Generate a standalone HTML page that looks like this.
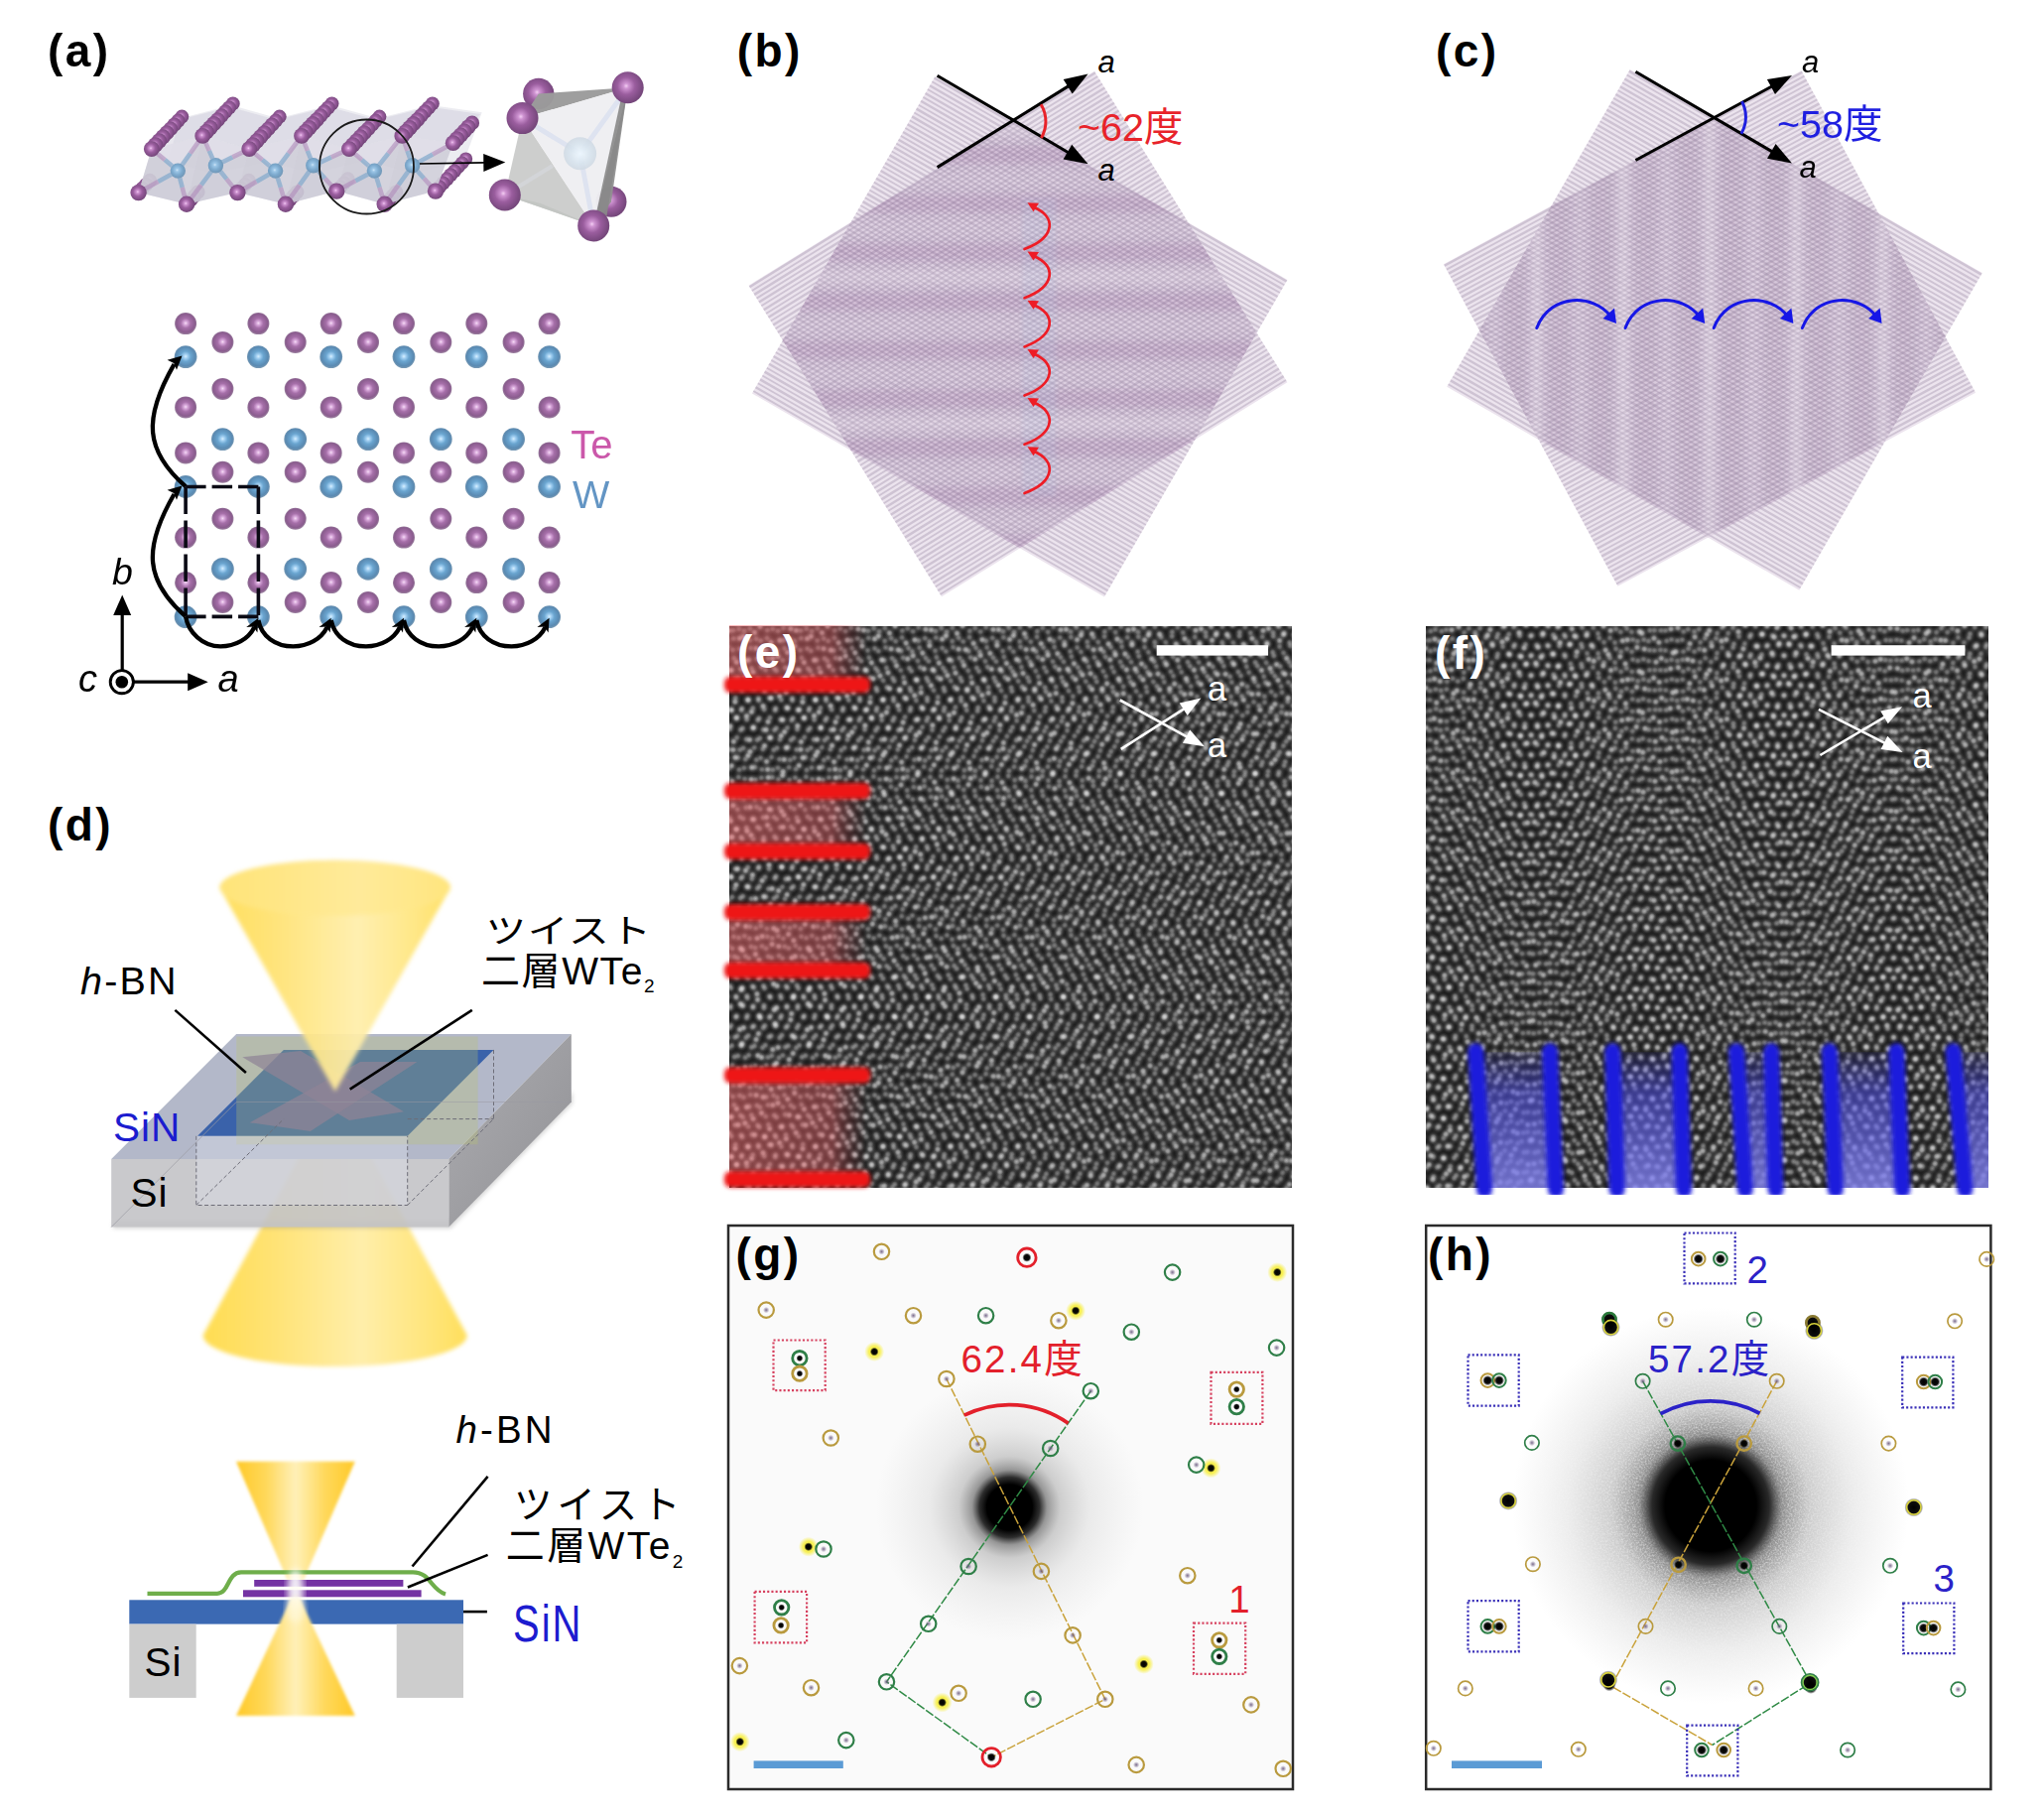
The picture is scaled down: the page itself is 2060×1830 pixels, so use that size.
<!DOCTYPE html>
<html lang="ja"><head><meta charset="utf-8"><title>Twisted bilayer WTe2 figure</title>
<style>
html,body{margin:0;padding:0;background:#fff;}
body{width:2060px;height:1830px;overflow:hidden;}
svg{display:block;font-family:"Liberation Sans", "Noto Sans CJK JP", sans-serif;}
</style></head><body>
<svg width="2060" height="1830" viewBox="0 0 2060 1830">
<defs>
<radialGradient id="gTe" cx="50%" cy="48%" r="50%">
 <stop offset="0" stop-color="#f6dcf6"/><stop offset="0.18" stop-color="#d6a6d9"/><stop offset="0.45" stop-color="#a66fa9"/><stop offset="0.85" stop-color="#8a5c8e"/><stop offset="1" stop-color="#85628a" stop-opacity="0.85"/>
</radialGradient>
<radialGradient id="gW" cx="50%" cy="48%" r="50%">
 <stop offset="0" stop-color="#d8f0ff"/><stop offset="0.18" stop-color="#a3d0f2"/><stop offset="0.45" stop-color="#6aa5d0"/><stop offset="0.85" stop-color="#5a8ab2"/><stop offset="1" stop-color="#5a84a6" stop-opacity="0.85"/>
</radialGradient>
<radialGradient id="gTe3" cx="45%" cy="45%" r="55%">
 <stop offset="0" stop-color="#f3cdf3"/><stop offset="0.15" stop-color="#cf94d2"/><stop offset="0.5" stop-color="#9a5d9e"/><stop offset="1" stop-color="#74467a"/>
</radialGradient>
<radialGradient id="gW3" cx="45%" cy="45%" r="55%">
 <stop offset="0" stop-color="#cdeaff"/><stop offset="0.2" stop-color="#86bfe8"/><stop offset="0.6" stop-color="#5b98c6"/><stop offset="1" stop-color="#4b7ea6"/>
</radialGradient>
<radialGradient id="gWpale" cx="50%" cy="50%" r="50%">
 <stop offset="0" stop-color="#eef8ff"/><stop offset="0.6" stop-color="#d8e4ee"/><stop offset="1" stop-color="#d0dae4"/>
</radialGradient>
<filter id="blur1" x="-10%" y="-10%" width="120%" height="120%"><feGaussianBlur stdDeviation="0.7"/></filter>
<g id="wlayer"><rect x="-205.00" y="-184.50" width="410.00" height="369.00" fill="#a078aa" opacity="0.2"/><g fill="#9a8aa6" fill-opacity="0.37"><rect x="-205.00" y="-183.95" width="410.00" height="2.4"/><rect x="-205.00" y="-179.20" width="410.00" height="1.8"/><rect x="-205.00" y="-174.95" width="410.00" height="2.4"/><rect x="-205.00" y="-170.20" width="410.00" height="1.8"/><rect x="-205.00" y="-165.95" width="410.00" height="2.4"/><rect x="-205.00" y="-161.20" width="410.00" height="1.8"/><rect x="-205.00" y="-156.95" width="410.00" height="2.4"/><rect x="-205.00" y="-152.20" width="410.00" height="1.8"/><rect x="-205.00" y="-147.95" width="410.00" height="2.4"/><rect x="-205.00" y="-143.20" width="410.00" height="1.8"/><rect x="-205.00" y="-138.95" width="410.00" height="2.4"/><rect x="-205.00" y="-134.20" width="410.00" height="1.8"/><rect x="-205.00" y="-129.95" width="410.00" height="2.4"/><rect x="-205.00" y="-125.20" width="410.00" height="1.8"/><rect x="-205.00" y="-120.95" width="410.00" height="2.4"/><rect x="-205.00" y="-116.20" width="410.00" height="1.8"/><rect x="-205.00" y="-111.95" width="410.00" height="2.4"/><rect x="-205.00" y="-107.20" width="410.00" height="1.8"/><rect x="-205.00" y="-102.95" width="410.00" height="2.4"/><rect x="-205.00" y="-98.20" width="410.00" height="1.8"/><rect x="-205.00" y="-93.95" width="410.00" height="2.4"/><rect x="-205.00" y="-89.20" width="410.00" height="1.8"/><rect x="-205.00" y="-84.95" width="410.00" height="2.4"/><rect x="-205.00" y="-80.20" width="410.00" height="1.8"/><rect x="-205.00" y="-75.95" width="410.00" height="2.4"/><rect x="-205.00" y="-71.20" width="410.00" height="1.8"/><rect x="-205.00" y="-66.95" width="410.00" height="2.4"/><rect x="-205.00" y="-62.20" width="410.00" height="1.8"/><rect x="-205.00" y="-57.95" width="410.00" height="2.4"/><rect x="-205.00" y="-53.20" width="410.00" height="1.8"/><rect x="-205.00" y="-48.95" width="410.00" height="2.4"/><rect x="-205.00" y="-44.20" width="410.00" height="1.8"/><rect x="-205.00" y="-39.95" width="410.00" height="2.4"/><rect x="-205.00" y="-35.20" width="410.00" height="1.8"/><rect x="-205.00" y="-30.95" width="410.00" height="2.4"/><rect x="-205.00" y="-26.20" width="410.00" height="1.8"/><rect x="-205.00" y="-21.95" width="410.00" height="2.4"/><rect x="-205.00" y="-17.20" width="410.00" height="1.8"/><rect x="-205.00" y="-12.95" width="410.00" height="2.4"/><rect x="-205.00" y="-8.20" width="410.00" height="1.8"/><rect x="-205.00" y="-3.95" width="410.00" height="2.4"/><rect x="-205.00" y="0.80" width="410.00" height="1.8"/><rect x="-205.00" y="5.05" width="410.00" height="2.4"/><rect x="-205.00" y="9.80" width="410.00" height="1.8"/><rect x="-205.00" y="14.05" width="410.00" height="2.4"/><rect x="-205.00" y="18.80" width="410.00" height="1.8"/><rect x="-205.00" y="23.05" width="410.00" height="2.4"/><rect x="-205.00" y="27.80" width="410.00" height="1.8"/><rect x="-205.00" y="32.05" width="410.00" height="2.4"/><rect x="-205.00" y="36.80" width="410.00" height="1.8"/><rect x="-205.00" y="41.05" width="410.00" height="2.4"/><rect x="-205.00" y="45.80" width="410.00" height="1.8"/><rect x="-205.00" y="50.05" width="410.00" height="2.4"/><rect x="-205.00" y="54.80" width="410.00" height="1.8"/><rect x="-205.00" y="59.05" width="410.00" height="2.4"/><rect x="-205.00" y="63.80" width="410.00" height="1.8"/><rect x="-205.00" y="68.05" width="410.00" height="2.4"/><rect x="-205.00" y="72.80" width="410.00" height="1.8"/><rect x="-205.00" y="77.05" width="410.00" height="2.4"/><rect x="-205.00" y="81.80" width="410.00" height="1.8"/><rect x="-205.00" y="86.05" width="410.00" height="2.4"/><rect x="-205.00" y="90.80" width="410.00" height="1.8"/><rect x="-205.00" y="95.05" width="410.00" height="2.4"/><rect x="-205.00" y="99.80" width="410.00" height="1.8"/><rect x="-205.00" y="104.05" width="410.00" height="2.4"/><rect x="-205.00" y="108.80" width="410.00" height="1.8"/><rect x="-205.00" y="113.05" width="410.00" height="2.4"/><rect x="-205.00" y="117.80" width="410.00" height="1.8"/><rect x="-205.00" y="122.05" width="410.00" height="2.4"/><rect x="-205.00" y="126.80" width="410.00" height="1.8"/><rect x="-205.00" y="131.05" width="410.00" height="2.4"/><rect x="-205.00" y="135.80" width="410.00" height="1.8"/><rect x="-205.00" y="140.05" width="410.00" height="2.4"/><rect x="-205.00" y="144.80" width="410.00" height="1.8"/><rect x="-205.00" y="149.05" width="410.00" height="2.4"/><rect x="-205.00" y="153.80" width="410.00" height="1.8"/><rect x="-205.00" y="158.05" width="410.00" height="2.4"/><rect x="-205.00" y="162.80" width="410.00" height="1.8"/><rect x="-205.00" y="167.05" width="410.00" height="2.4"/><rect x="-205.00" y="171.80" width="410.00" height="1.8"/><rect x="-205.00" y="176.05" width="410.00" height="2.4"/><rect x="-205.00" y="180.80" width="410.00" height="1.8"/></g></g><filter id="blurM" x="-20%" y="-20%" width="140%" height="140%"><feGaussianBlur stdDeviation="3"/></filter>
<linearGradient id="coneH" x1="0" y1="0" x2="1" y2="0">
 <stop offset="0" stop-color="#ffdd52"/><stop offset="0.25" stop-color="#ffe272"/><stop offset="0.6" stop-color="#ffeeaa"/><stop offset="0.85" stop-color="#ffe57c"/><stop offset="1" stop-color="#ffdf5c"/>
</linearGradient>
<linearGradient id="coneH2" x1="0" y1="0" x2="1" y2="0">
 <stop offset="0" stop-color="#ffc928"/><stop offset="0.25" stop-color="#ffd85a"/><stop offset="0.5" stop-color="#fff0b8"/><stop offset="0.75" stop-color="#ffd85a"/><stop offset="1" stop-color="#ffc928"/>
</linearGradient>
<linearGradient id="fadeDown" x1="0" y1="0" x2="0" y2="1">
 <stop offset="0" stop-color="#fff" stop-opacity="0"/><stop offset="0.55" stop-color="#fff" stop-opacity="0"/><stop offset="1" stop-color="#fff" stop-opacity="0.95"/>
</linearGradient>
<linearGradient id="fadeUp" x1="0" y1="1" x2="0" y2="0">
 <stop offset="0" stop-color="#fff" stop-opacity="0"/><stop offset="0.55" stop-color="#fff" stop-opacity="0"/><stop offset="1" stop-color="#fff" stop-opacity="0.95"/>
</linearGradient>
<linearGradient id="fadeTop" x1="0" y1="0" x2="0" y2="1">
 <stop offset="0" stop-color="#fff" stop-opacity="0.55"/><stop offset="0.25" stop-color="#fff" stop-opacity="0"/><stop offset="1" stop-color="#fff" stop-opacity="0"/>
</linearGradient>
<linearGradient id="rightFace" x1="0" y1="0" x2="1" y2="1">
 <stop offset="0" stop-color="#acacb0"/><stop offset="1" stop-color="#919195"/>
</linearGradient>
<filter id="blur2" x="-20%" y="-20%" width="140%" height="140%"><feGaussianBlur stdDeviation="2.2"/></filter>
<filter id="blur3" x="-20%" y="-20%" width="140%" height="140%"><feGaussianBlur stdDeviation="3.5"/></filter>
<filter id="blur15" x="-20%" y="-20%" width="140%" height="140%"><feGaussianBlur stdDeviation="1.4"/></filter>

<radialGradient id="beamG" cx="50%" cy="50%" r="50%">
 <stop offset="0" stop-color="#000" stop-opacity="1"/><stop offset="0.17" stop-color="#000" stop-opacity="1"/><stop offset="0.225" stop-color="#111" stop-opacity="0.88"/>
 <stop offset="0.28" stop-color="#333" stop-opacity="0.5"/><stop offset="0.38" stop-color="#555" stop-opacity="0.27"/><stop offset="0.6" stop-color="#777" stop-opacity="0.12"/><stop offset="1" stop-color="#999" stop-opacity="0"/>
</radialGradient>
<radialGradient id="beamH" cx="50%" cy="50%" r="50%">
 <stop offset="0" stop-color="#000" stop-opacity="1"/><stop offset="0.23" stop-color="#000" stop-opacity="1"/><stop offset="0.295" stop-color="#111" stop-opacity="0.9"/>
 <stop offset="0.36" stop-color="#333" stop-opacity="0.55"/><stop offset="0.5" stop-color="#555" stop-opacity="0.3"/><stop offset="0.72" stop-color="#777" stop-opacity="0.14"/><stop offset="1" stop-color="#999" stop-opacity="0"/>
</radialGradient>
<radialGradient id="haloMask" cx="50%" cy="50%" r="50%">
 <stop offset="0" stop-color="#000" stop-opacity="0"/><stop offset="0.33" stop-color="#000" stop-opacity="0"/><stop offset="0.42" stop-color="#000" stop-opacity="0.9"/><stop offset="0.7" stop-color="#000" stop-opacity="0.5"/><stop offset="1" stop-color="#000" stop-opacity="0"/>
</radialGradient>
<filter id="grain" x="0" y="0" width="100%" height="100%" color-interpolation-filters="sRGB">
 <feTurbulence type="fractalNoise" baseFrequency="0.55" numOctaves="2" seed="7" result="n"/>
 <feColorMatrix in="n" type="matrix" values="0 0 0 0 1  0 0 0 0 1  0 0 0 0 1  2.2 0 0 0 -0.85" result="w"/>
 <feComposite in="w" in2="SourceGraphic" operator="in"/>
</filter>
<radialGradient id="yglow" cx="50%" cy="50%" r="50%">
 <stop offset="0" stop-color="#f7ee3a" stop-opacity="1"/><stop offset="0.55" stop-color="#f7ee3a" stop-opacity="0.85"/><stop offset="1" stop-color="#f7ee3a" stop-opacity="0"/>
</radialGradient>
<radialGradient id="spot" cx="50%" cy="50%" r="50%">
 <stop offset="0" stop-color="#000" stop-opacity="1"/><stop offset="0.6" stop-color="#000" stop-opacity="0.95"/><stop offset="1" stop-color="#000" stop-opacity="0"/>
</radialGradient>
<radialGradient id="fspot" cx="50%" cy="50%" r="50%">
 <stop offset="0" stop-color="#6b5a80" stop-opacity="0.9"/><stop offset="1" stop-color="#6b5a80" stop-opacity="0"/>
</radialGradient>

<radialGradient id="dW" cx="50%" cy="50%" r="50%"><stop offset="0" stop-color="#fff" stop-opacity="0.6"/><stop offset="0.25" stop-color="#fff" stop-opacity="0.46"/><stop offset="0.5" stop-color="#fff" stop-opacity="0.17"/><stop offset="0.75" stop-color="#fff" stop-opacity="0.04"/><stop offset="1" stop-color="#fff" stop-opacity="0"/></radialGradient>
<radialGradient id="dTe" cx="50%" cy="50%" r="50%"><stop offset="0" stop-color="#fff" stop-opacity="0.4"/><stop offset="0.25" stop-color="#fff" stop-opacity="0.3"/><stop offset="0.5" stop-color="#fff" stop-opacity="0.11"/><stop offset="0.75" stop-color="#fff" stop-opacity="0.03"/><stop offset="1" stop-color="#fff" stop-opacity="0"/></radialGradient>
<linearGradient id="redFade" x1="0" y1="0" x2="1" y2="0"><stop offset="0" stop-color="#f0686c" stop-opacity="0.5"/><stop offset="0.75" stop-color="#d85a60" stop-opacity="0.45"/><stop offset="1" stop-color="#a03038" stop-opacity="0"/></linearGradient>
<linearGradient id="blueFade" x1="0" y1="0" x2="0" y2="1"><stop offset="0" stop-color="#3030e0" stop-opacity="0.1"/><stop offset="0.3" stop-color="#5050e6" stop-opacity="0.55"/><stop offset="1" stop-color="#8585f0" stop-opacity="0.82"/></linearGradient>
<clipPath id="clipE"><rect x="735" y="631" width="567" height="566"/></clipPath>
<clipPath id="clipF"><rect x="1437" y="631" width="567" height="566"/></clipPath>
<filter id="blurS" x="-5%" y="-5%" width="110%" height="110%"><feGaussianBlur stdDeviation="0.6"/></filter>
<filter id="blurBar" x="-10%" y="-30%" width="120%" height="160%"><feGaussianBlur stdDeviation="1.9"/></filter>
<g id="scell"><circle cx="0.00" cy="0.00" r="6.6" fill="url(#dW)"/><circle cx="0.00" cy="9.24" r="6.4" fill="url(#dTe)"/><circle cx="0.00" cy="21.38" r="6.4" fill="url(#dTe)"/><circle cx="9.72" cy="3.92" r="6.4" fill="url(#dTe)"/><circle cx="9.72" cy="12.91" r="6.6" fill="url(#dW)"/><circle cx="9.72" cy="26.39" r="6.4" fill="url(#dTe)"/></g><g id="srow"><use href="#scell" x="0.00"/><use href="#scell" x="19.44"/><use href="#scell" x="38.88"/><use href="#scell" x="58.32"/><use href="#scell" x="77.76"/><use href="#scell" x="97.20"/><use href="#scell" x="116.64"/><use href="#scell" x="136.08"/><use href="#scell" x="155.52"/><use href="#scell" x="174.96"/><use href="#scell" x="194.40"/><use href="#scell" x="213.84"/><use href="#scell" x="233.28"/><use href="#scell" x="252.72"/><use href="#scell" x="272.16"/><use href="#scell" x="291.60"/><use href="#scell" x="311.04"/><use href="#scell" x="330.48"/><use href="#scell" x="349.92"/><use href="#scell" x="369.36"/><use href="#scell" x="388.80"/><use href="#scell" x="408.24"/><use href="#scell" x="427.68"/><use href="#scell" x="447.12"/><use href="#scell" x="466.56"/><use href="#scell" x="486.00"/><use href="#scell" x="505.44"/><use href="#scell" x="524.88"/><use href="#scell" x="544.32"/><use href="#scell" x="563.76"/><use href="#scell" x="583.20"/><use href="#scell" x="602.64"/><use href="#scell" x="622.08"/><use href="#scell" x="641.52"/><use href="#scell" x="660.96"/><use href="#scell" x="680.40"/><use href="#scell" x="699.84"/><use href="#scell" x="719.28"/><use href="#scell" x="738.72"/><use href="#scell" x="758.16"/><use href="#scell" x="777.60"/><use href="#scell" x="797.04"/><use href="#scell" x="816.48"/><use href="#scell" x="835.92"/></g><g id="slayer"><g transform="translate(-427.68,-455.00)"><use href="#srow" y="0.00"/><use href="#srow" y="35.00"/><use href="#srow" y="70.00"/><use href="#srow" y="105.00"/><use href="#srow" y="140.00"/><use href="#srow" y="175.00"/><use href="#srow" y="210.00"/><use href="#srow" y="245.00"/><use href="#srow" y="280.00"/><use href="#srow" y="315.00"/><use href="#srow" y="350.00"/><use href="#srow" y="385.00"/><use href="#srow" y="420.00"/><use href="#srow" y="455.00"/><use href="#srow" y="490.00"/><use href="#srow" y="525.00"/><use href="#srow" y="560.00"/><use href="#srow" y="595.00"/><use href="#srow" y="630.00"/><use href="#srow" y="665.00"/><use href="#srow" y="700.00"/><use href="#srow" y="735.00"/><use href="#srow" y="770.00"/><use href="#srow" y="805.00"/><use href="#srow" y="840.00"/><use href="#srow" y="875.00"/></g></g></defs>
<rect width="2060" height="1830" fill="#fff"/>
<text x="742.7" y="67" font-size="46" font-weight="bold" fill="#000" letter-spacing="2.4">(b)</text>
<g transform="translate(1027.7,339.2) rotate(30) translate(0,0)"><use href="#wlayer"/></g>
<g transform="translate(1026,336.5) rotate(-31.8) translate(0,0)"><use href="#wlayer"/></g>
<defs><clipPath id="cbA"><polygon points="942.4,76.9 1297.5,281.9 1113,601.5 757.9,396.5"/></clipPath><clipPath id="cbB"><polygon points="754.5,287.7 1103,71.7 1297.5,385.3 949,601.3"/></clipPath></defs>
<g clip-path="url(#cbA)"><g clip-path="url(#cbB)"><g filter="url(#blurM)"><rect x="740" y="49.1" width="580" height="17" fill="#4a2a5a" opacity="0.075"/><rect x="740" y="74.7" width="580" height="15" fill="#fff" opacity="0.07"/><rect x="740" y="98.3" width="580" height="17" fill="#4a2a5a" opacity="0.075"/><rect x="740" y="123.9" width="580" height="15" fill="#fff" opacity="0.17"/><rect x="740" y="147.5" width="580" height="17" fill="#4a2a5a" opacity="0.075"/><rect x="740" y="173.1" width="580" height="15" fill="#fff" opacity="0.07"/><rect x="740" y="196.7" width="580" height="17" fill="#4a2a5a" opacity="0.075"/><rect x="740" y="222.3" width="580" height="15" fill="#fff" opacity="0.07"/><rect x="740" y="245.9" width="580" height="17" fill="#4a2a5a" opacity="0.075"/><rect x="740" y="271.5" width="580" height="15" fill="#fff" opacity="0.17"/><rect x="740" y="295.1" width="580" height="17" fill="#4a2a5a" opacity="0.075"/><rect x="740" y="320.7" width="580" height="15" fill="#fff" opacity="0.07"/><rect x="740" y="344.3" width="580" height="17" fill="#4a2a5a" opacity="0.075"/><rect x="740" y="369.9" width="580" height="15" fill="#fff" opacity="0.07"/><rect x="740" y="393.5" width="580" height="17" fill="#4a2a5a" opacity="0.075"/><rect x="740" y="419.1" width="580" height="15" fill="#fff" opacity="0.17"/><rect x="740" y="442.7" width="580" height="17" fill="#4a2a5a" opacity="0.075"/><rect x="740" y="468.3" width="580" height="15" fill="#fff" opacity="0.07"/><rect x="740" y="491.9" width="580" height="17" fill="#4a2a5a" opacity="0.075"/><rect x="740" y="517.5" width="580" height="15" fill="#fff" opacity="0.07"/><rect x="740" y="541.1" width="580" height="17" fill="#4a2a5a" opacity="0.075"/><rect x="740" y="566.7" width="580" height="15" fill="#fff" opacity="0.17"/><rect x="740" y="590.3" width="580" height="17" fill="#4a2a5a" opacity="0.075"/><rect x="740" y="615.9" width="580" height="15" fill="#fff" opacity="0.07"/></g></g></g>
<rect x="1030" y="200" width="34" height="300" fill="#a9c4e6" opacity="0.13" filter="url(#blur2)"/>
<line x1="944.6" y1="76.2" x2="1077.6" y2="154.2" stroke="#000" stroke-width="3"/><polygon points="1096.6,165.3 1071.6,160.5 1080.2,145.8" fill="#000"/>
<line x1="944.6" y1="168.6" x2="1077.9" y2="86.1" stroke="#000" stroke-width="3"/><polygon points="1096.6,74.5 1080.7,94.4 1071.7,79.9" fill="#000"/>
<path d="M1049.1,105.2 A33,33 0 0 1 1049.4,139.1" fill="none" stroke="#e8232a" stroke-width="3"/>
<text x="1115" y="73" font-size="31" fill="#000" font-weight="normal" font-style="italic" text-anchor="middle" >a</text>
<text x="1115" y="182" font-size="31" fill="#000" font-weight="normal" font-style="italic" text-anchor="middle" >a</text>
<text x="1086" y="141.5" font-size="39.5" fill="#e8232a" font-weight="normal" font-style="normal" text-anchor="start" >~62度</text>
<path d="M1032.5,497 C1064.5,485 1064.5,463.8 1041.5,454.8" fill="none" stroke="#ee1c25" stroke-width="2.7" stroke-linecap="round"/>
<polygon points="1035.5,450.3 1047,450.8 1041.5,459.3" fill="#ee1c25"/>
<path d="M1032.5,447.8 C1064.5,435.8 1064.5,414.6 1041.5,405.6" fill="none" stroke="#ee1c25" stroke-width="2.7" stroke-linecap="round"/>
<polygon points="1035.5,401.1 1047,401.6 1041.5,410.1" fill="#ee1c25"/>
<path d="M1032.5,398.6 C1064.5,386.6 1064.5,365.4 1041.5,356.4" fill="none" stroke="#ee1c25" stroke-width="2.7" stroke-linecap="round"/>
<polygon points="1035.5,351.9 1047,352.4 1041.5,360.9" fill="#ee1c25"/>
<path d="M1032.5,349.4 C1064.5,337.4 1064.5,316.2 1041.5,307.2" fill="none" stroke="#ee1c25" stroke-width="2.7" stroke-linecap="round"/>
<polygon points="1035.5,302.7 1047,303.2 1041.5,311.7" fill="#ee1c25"/>
<path d="M1032.5,300.2 C1064.5,288.2 1064.5,267 1041.5,258" fill="none" stroke="#ee1c25" stroke-width="2.7" stroke-linecap="round"/>
<polygon points="1035.5,253.5 1047,254 1041.5,262.5" fill="#ee1c25"/>
<path d="M1032.5,251 C1064.5,239 1064.5,217.8 1041.5,208.8" fill="none" stroke="#ee1c25" stroke-width="2.7" stroke-linecap="round"/>
<polygon points="1035.5,204.3 1047,204.8 1041.5,213.3" fill="#ee1c25"/>
<text x="1447" y="67" font-size="46" font-weight="bold" fill="#000" letter-spacing="2.4">(c)</text>
<g transform="translate(1728,332.4) rotate(30) translate(0,0)"><use href="#wlayer"/></g>
<g transform="translate(1723,331) rotate(-28.4) translate(0,0)"><use href="#wlayer"/></g>
<defs><clipPath id="ccA"><polygon points="1642.7,70.1 1997.8,275.1 1813.3,594.7 1458.2,389.7"/></clipPath><clipPath id="ccB"><polygon points="1454.9,266.2 1815.6,71.2 1991.1,395.8 1630.4,590.8"/></clipPath></defs>
<g clip-path="url(#ccA)"><g clip-path="url(#ccB)"><g filter="url(#blurM)"><rect x="1456.1" y="60" width="11" height="560" fill="#fff" opacity="0.24"/><rect x="1500.7" y="60" width="9" height="560" fill="#fff" opacity="0.1"/><rect x="1473.6" y="60" width="20" height="560" fill="#6a4a78" opacity="0.05"/><rect x="1516.6" y="60" width="20" height="560" fill="#6a4a78" opacity="0.05"/><rect x="1543.3" y="60" width="11" height="560" fill="#fff" opacity="0.24"/><rect x="1587.9" y="60" width="9" height="560" fill="#fff" opacity="0.1"/><rect x="1560.8" y="60" width="20" height="560" fill="#6a4a78" opacity="0.05"/><rect x="1603.8" y="60" width="20" height="560" fill="#6a4a78" opacity="0.05"/><rect x="1630.5" y="60" width="11" height="560" fill="#fff" opacity="0.24"/><rect x="1675.1" y="60" width="9" height="560" fill="#fff" opacity="0.1"/><rect x="1648" y="60" width="20" height="560" fill="#6a4a78" opacity="0.05"/><rect x="1691" y="60" width="20" height="560" fill="#6a4a78" opacity="0.05"/><rect x="1717.7" y="60" width="11" height="560" fill="#fff" opacity="0.24"/><rect x="1762.3" y="60" width="9" height="560" fill="#fff" opacity="0.1"/><rect x="1735.2" y="60" width="20" height="560" fill="#6a4a78" opacity="0.05"/><rect x="1778.2" y="60" width="20" height="560" fill="#6a4a78" opacity="0.05"/><rect x="1804.9" y="60" width="11" height="560" fill="#fff" opacity="0.24"/><rect x="1849.5" y="60" width="9" height="560" fill="#fff" opacity="0.1"/><rect x="1822.4" y="60" width="20" height="560" fill="#6a4a78" opacity="0.05"/><rect x="1865.4" y="60" width="20" height="560" fill="#6a4a78" opacity="0.05"/><rect x="1892.1" y="60" width="11" height="560" fill="#fff" opacity="0.24"/><rect x="1936.7" y="60" width="9" height="560" fill="#fff" opacity="0.1"/><rect x="1909.6" y="60" width="20" height="560" fill="#6a4a78" opacity="0.05"/><rect x="1952.6" y="60" width="20" height="560" fill="#6a4a78" opacity="0.05"/><rect x="1979.3" y="60" width="11" height="560" fill="#fff" opacity="0.24"/><rect x="2023.9" y="60" width="9" height="560" fill="#fff" opacity="0.1"/><rect x="1996.8" y="60" width="20" height="560" fill="#6a4a78" opacity="0.05"/><rect x="2039.8" y="60" width="20" height="560" fill="#6a4a78" opacity="0.05"/><rect x="2066.5" y="60" width="11" height="560" fill="#fff" opacity="0.24"/><rect x="2111.1" y="60" width="9" height="560" fill="#fff" opacity="0.1"/><rect x="2084" y="60" width="20" height="560" fill="#6a4a78" opacity="0.05"/><rect x="2127" y="60" width="20" height="560" fill="#6a4a78" opacity="0.05"/></g></g></g>
<line x1="1648.4" y1="72.3" x2="1787" y2="153.4" stroke="#000" stroke-width="3"/><polygon points="1806,164.5 1781,159.7 1789.6,145" fill="#000"/>
<line x1="1648.4" y1="161.5" x2="1786.7" y2="86.5" stroke="#000" stroke-width="3"/><polygon points="1806,76 1789,94.9 1780.9,80" fill="#000"/>
<path d="M1755.5,102.3 A33,33 0 0 1 1754.9,134.7" fill="none" stroke="#1f1fe0" stroke-width="3"/>
<text x="1824.5" y="73" font-size="31" fill="#000" font-weight="normal" font-style="italic" text-anchor="middle" >a</text>
<text x="1822" y="179" font-size="31" fill="#000" font-weight="normal" font-style="italic" text-anchor="middle" >a</text>
<text x="1791" y="138.5" font-size="39.5" fill="#1f1fe0" font-weight="normal" font-style="normal" text-anchor="start" >~58度</text>
<path d="M1548.8,330.5 C1562.8,294.5 1607,296.5 1623,318.5" fill="none" stroke="#1616e6" stroke-width="3" stroke-linecap="round"/>
<polygon points="1629,326 1627,310.5 1615.5,321" fill="#1616e6"/>
<path d="M1638,330.5 C1652,294.5 1696.2,296.5 1712.2,318.5" fill="none" stroke="#1616e6" stroke-width="3" stroke-linecap="round"/>
<polygon points="1718.2,326 1716.2,310.5 1704.7,321" fill="#1616e6"/>
<path d="M1727.2,330.5 C1741.2,294.5 1785.4,296.5 1801.4,318.5" fill="none" stroke="#1616e6" stroke-width="3" stroke-linecap="round"/>
<polygon points="1807.4,326 1805.4,310.5 1793.9,321" fill="#1616e6"/>
<path d="M1816.4,330.5 C1830.4,294.5 1874.6,296.5 1890.6,318.5" fill="none" stroke="#1616e6" stroke-width="3" stroke-linecap="round"/>
<polygon points="1896.6,326 1894.6,310.5 1883.1,321" fill="#1616e6"/>
<g id="pa"><text x="48" y="67" font-size="46" font-weight="bold" fill="#000" letter-spacing="2.4">(a)</text><g filter="url(#blur1)">
<polygon points="181.8,119.2 233.2,106 280.2,119.2 333,106 380.9,119.2 434.3,106 485.7,113.3 468,161.7 416.7,174.9 368.2,161.7 316.9,174.9 268.4,163.2 217.1,174.9 168.6,163.2" fill="#dddce6" opacity="0.55"/>
<polygon points="152.8,150.1 204.2,136.9 231.6,107.7 180.2,120.8" fill="#d2d0de" opacity="0.5"/>
<polygon points="204.2,136.9 251.2,150.1 278.6,120.8 231.6,107.7" fill="#d2d0de" opacity="0.5"/>
<polygon points="251.2,150.1 304,136.9 331.4,107.7 278.6,120.8" fill="#d2d0de" opacity="0.5"/>
<polygon points="304,136.9 351.9,150.1 379.3,120.8 331.4,107.7" fill="#d2d0de" opacity="0.5"/>
<polygon points="351.9,150.1 405.3,136.9 432.8,107.7 379.3,120.8" fill="#d2d0de" opacity="0.5"/>
<polygon points="405.3,136.9 456.7,144.2 484.1,114.9 432.8,107.7" fill="#d2d0de" opacity="0.5"/>
</g>
<circle cx="151" cy="181.9" r="7.1" fill="url(#gTe3)" />
<circle cx="147.2" cy="186" r="7.1" fill="url(#gTe3)" />
<circle cx="143.4" cy="190" r="7.2" fill="url(#gTe3)" />
<circle cx="199.5" cy="193.6" r="7.1" fill="url(#gTe3)" />
<circle cx="195.7" cy="197.7" r="7.1" fill="url(#gTe3)" />
<circle cx="191.9" cy="201.7" r="7.2" fill="url(#gTe3)" />
<circle cx="250.8" cy="181.9" r="7.1" fill="url(#gTe3)" />
<circle cx="247" cy="186" r="7.1" fill="url(#gTe3)" />
<circle cx="243.2" cy="190" r="7.2" fill="url(#gTe3)" />
<circle cx="299.3" cy="193.6" r="7.1" fill="url(#gTe3)" />
<circle cx="295.5" cy="197.7" r="7.1" fill="url(#gTe3)" />
<circle cx="291.7" cy="201.7" r="7.2" fill="url(#gTe3)" />
<circle cx="350.6" cy="180.4" r="7.1" fill="url(#gTe3)" />
<circle cx="346.8" cy="184.5" r="7.1" fill="url(#gTe3)" />
<circle cx="343" cy="188.5" r="7.2" fill="url(#gTe3)" />
<circle cx="399.1" cy="193.6" r="7.1" fill="url(#gTe3)" />
<circle cx="395.3" cy="197.7" r="7.1" fill="url(#gTe3)" />
<circle cx="391.5" cy="201.7" r="7.2" fill="url(#gTe3)" />
<circle cx="469.5" cy="160.1" r="6.7" fill="url(#gTe3)" />
<circle cx="465.7" cy="164.2" r="6.8" fill="url(#gTe3)" />
<circle cx="461.9" cy="168.2" r="6.8" fill="url(#gTe3)" />
<circle cx="458.1" cy="172.3" r="6.9" fill="url(#gTe3)" />
<circle cx="454.2" cy="176.3" r="7" fill="url(#gTe3)" />
<circle cx="450.4" cy="180.4" r="7.1" fill="url(#gTe3)" />
<circle cx="446.6" cy="184.5" r="7.1" fill="url(#gTe3)" />
<circle cx="442.8" cy="188.5" r="7.2" fill="url(#gTe3)" />
<g filter="url(#blur1)">
<polygon points="152.8,150.1 204.2,136.9 251.2,150.1 304,136.9 351.9,150.1 405.3,136.9 456.7,144.2 439,192.6 387.7,205.8 339.2,192.6 287.9,205.8 239.4,194.1 188.1,205.8 139.6,194.1" fill="#d2d1dc" opacity="0.85"/>
<polygon points="179.3,172.1 152.8,150.1 139.6,194.1" fill="#c9c7d4" opacity="0.5"/>
<polygon points="179.3,172.1 152.8,150.1 204.2,136.9" fill="#e6e5ee" opacity="0.6"/>
<polygon points="179.3,172.1 188.1,205.8 204.2,136.9" fill="#cfcdd9" opacity="0.45"/>
<polygon points="179.3,172.1 139.6,194.1 188.1,205.8" fill="#c3c0d0" opacity="0.4"/>
<polygon points="217.4,166.8 204.2,136.9 188.1,205.8" fill="#c9c7d4" opacity="0.5"/>
<polygon points="217.4,166.8 204.2,136.9 251.2,150.1" fill="#e6e5ee" opacity="0.6"/>
<polygon points="217.4,166.8 239.4,194.1 251.2,150.1" fill="#cfcdd9" opacity="0.45"/>
<polygon points="217.4,166.8 188.1,205.8 239.4,194.1" fill="#c3c0d0" opacity="0.4"/>
<polygon points="277.6,172.1 251.2,150.1 239.4,194.1" fill="#c9c7d4" opacity="0.5"/>
<polygon points="277.6,172.1 251.2,150.1 304,136.9" fill="#e6e5ee" opacity="0.6"/>
<polygon points="277.6,172.1 287.9,205.8 304,136.9" fill="#cfcdd9" opacity="0.45"/>
<polygon points="277.6,172.1 239.4,194.1 287.9,205.8" fill="#c3c0d0" opacity="0.4"/>
<polygon points="315.8,166.8 304,136.9 287.9,205.8" fill="#c9c7d4" opacity="0.5"/>
<polygon points="315.8,166.8 304,136.9 351.9,150.1" fill="#e6e5ee" opacity="0.6"/>
<polygon points="315.8,166.8 339.2,192.6 351.9,150.1" fill="#cfcdd9" opacity="0.45"/>
<polygon points="315.8,166.8 287.9,205.8 339.2,192.6" fill="#c3c0d0" opacity="0.4"/>
<polygon points="377.4,172.1 351.9,150.1 339.2,192.6" fill="#c9c7d4" opacity="0.5"/>
<polygon points="377.4,172.1 351.9,150.1 405.3,136.9" fill="#e6e5ee" opacity="0.6"/>
<polygon points="377.4,172.1 387.7,205.8 405.3,136.9" fill="#cfcdd9" opacity="0.45"/>
<polygon points="377.4,172.1 339.2,192.6 387.7,205.8" fill="#c3c0d0" opacity="0.4"/>
<polygon points="415.6,166.8 405.3,136.9 387.7,205.8" fill="#c9c7d4" opacity="0.5"/>
<polygon points="415.6,166.8 405.3,136.9 456.7,144.2" fill="#e6e5ee" opacity="0.6"/>
<polygon points="415.6,166.8 439,192.6 456.7,144.2" fill="#cfcdd9" opacity="0.45"/>
<polygon points="415.6,166.8 387.7,205.8 439,192.6" fill="#c3c0d0" opacity="0.4"/>
</g>
<line x1="179.3" y1="172.1" x2="166.1" y2="161.1" stroke="#86abcd" stroke-width="4.6" opacity="0.75"/>
<line x1="166.1" y1="161.1" x2="152.8" y2="150.1" stroke="#b08bbb" stroke-width="4.6" opacity="0.6"/>
<line x1="179.3" y1="172.1" x2="159.4" y2="183.1" stroke="#86abcd" stroke-width="4.6" opacity="0.75"/>
<line x1="159.4" y1="183.1" x2="139.6" y2="194.1" stroke="#b08bbb" stroke-width="4.6" opacity="0.6"/>
<line x1="179.3" y1="172.1" x2="183.7" y2="188.9" stroke="#86abcd" stroke-width="4.6" opacity="0.75"/>
<line x1="183.7" y1="188.9" x2="188.1" y2="205.8" stroke="#b08bbb" stroke-width="4.6" opacity="0.6"/>
<line x1="179.3" y1="172.1" x2="191.8" y2="154.5" stroke="#86abcd" stroke-width="4.6" opacity="0.75"/>
<line x1="191.8" y1="154.5" x2="204.2" y2="136.9" stroke="#b08bbb" stroke-width="4.6" opacity="0.6"/>
<line x1="217.4" y1="166.8" x2="210.8" y2="151.9" stroke="#86abcd" stroke-width="4.6" opacity="0.75"/>
<line x1="210.8" y1="151.9" x2="204.2" y2="136.9" stroke="#b08bbb" stroke-width="4.6" opacity="0.6"/>
<line x1="217.4" y1="166.8" x2="202.8" y2="186.3" stroke="#86abcd" stroke-width="4.6" opacity="0.75"/>
<line x1="202.8" y1="186.3" x2="188.1" y2="205.8" stroke="#b08bbb" stroke-width="4.6" opacity="0.6"/>
<line x1="217.4" y1="166.8" x2="228.4" y2="180.4" stroke="#86abcd" stroke-width="4.6" opacity="0.75"/>
<line x1="228.4" y1="180.4" x2="239.4" y2="194.1" stroke="#b08bbb" stroke-width="4.6" opacity="0.6"/>
<line x1="217.4" y1="166.8" x2="234.3" y2="158.4" stroke="#86abcd" stroke-width="4.6" opacity="0.75"/>
<line x1="234.3" y1="158.4" x2="251.2" y2="150.1" stroke="#b08bbb" stroke-width="4.6" opacity="0.6"/>
<line x1="277.6" y1="172.1" x2="264.4" y2="161.1" stroke="#86abcd" stroke-width="4.6" opacity="0.75"/>
<line x1="264.4" y1="161.1" x2="251.2" y2="150.1" stroke="#b08bbb" stroke-width="4.6" opacity="0.6"/>
<line x1="277.6" y1="172.1" x2="258.5" y2="183.1" stroke="#86abcd" stroke-width="4.6" opacity="0.75"/>
<line x1="258.5" y1="183.1" x2="239.4" y2="194.1" stroke="#b08bbb" stroke-width="4.6" opacity="0.6"/>
<line x1="277.6" y1="172.1" x2="282.8" y2="188.9" stroke="#86abcd" stroke-width="4.6" opacity="0.75"/>
<line x1="282.8" y1="188.9" x2="287.9" y2="205.8" stroke="#b08bbb" stroke-width="4.6" opacity="0.6"/>
<line x1="277.6" y1="172.1" x2="290.8" y2="154.5" stroke="#86abcd" stroke-width="4.6" opacity="0.75"/>
<line x1="290.8" y1="154.5" x2="304" y2="136.9" stroke="#b08bbb" stroke-width="4.6" opacity="0.6"/>
<line x1="315.8" y1="166.8" x2="309.9" y2="151.9" stroke="#86abcd" stroke-width="4.6" opacity="0.75"/>
<line x1="309.9" y1="151.9" x2="304" y2="136.9" stroke="#b08bbb" stroke-width="4.6" opacity="0.6"/>
<line x1="315.8" y1="166.8" x2="301.9" y2="186.3" stroke="#86abcd" stroke-width="4.6" opacity="0.75"/>
<line x1="301.9" y1="186.3" x2="287.9" y2="205.8" stroke="#b08bbb" stroke-width="4.6" opacity="0.6"/>
<line x1="315.8" y1="166.8" x2="327.5" y2="179.7" stroke="#86abcd" stroke-width="4.6" opacity="0.75"/>
<line x1="327.5" y1="179.7" x2="339.2" y2="192.6" stroke="#b08bbb" stroke-width="4.6" opacity="0.6"/>
<line x1="315.8" y1="166.8" x2="333.9" y2="158.4" stroke="#86abcd" stroke-width="4.6" opacity="0.75"/>
<line x1="333.9" y1="158.4" x2="351.9" y2="150.1" stroke="#b08bbb" stroke-width="4.6" opacity="0.6"/>
<line x1="377.4" y1="172.1" x2="364.6" y2="161.1" stroke="#86abcd" stroke-width="4.6" opacity="0.75"/>
<line x1="364.6" y1="161.1" x2="351.9" y2="150.1" stroke="#b08bbb" stroke-width="4.6" opacity="0.6"/>
<line x1="377.4" y1="172.1" x2="358.3" y2="182.3" stroke="#86abcd" stroke-width="4.6" opacity="0.75"/>
<line x1="358.3" y1="182.3" x2="339.2" y2="192.6" stroke="#b08bbb" stroke-width="4.6" opacity="0.6"/>
<line x1="377.4" y1="172.1" x2="382.5" y2="188.9" stroke="#86abcd" stroke-width="4.6" opacity="0.75"/>
<line x1="382.5" y1="188.9" x2="387.7" y2="205.8" stroke="#b08bbb" stroke-width="4.6" opacity="0.6"/>
<line x1="377.4" y1="172.1" x2="391.4" y2="154.5" stroke="#86abcd" stroke-width="4.6" opacity="0.75"/>
<line x1="391.4" y1="154.5" x2="405.3" y2="136.9" stroke="#b08bbb" stroke-width="4.6" opacity="0.6"/>
<line x1="415.6" y1="166.8" x2="410.5" y2="151.9" stroke="#86abcd" stroke-width="4.6" opacity="0.75"/>
<line x1="410.5" y1="151.9" x2="405.3" y2="136.9" stroke="#b08bbb" stroke-width="4.6" opacity="0.6"/>
<line x1="415.6" y1="166.8" x2="401.6" y2="186.3" stroke="#86abcd" stroke-width="4.6" opacity="0.75"/>
<line x1="401.6" y1="186.3" x2="387.7" y2="205.8" stroke="#b08bbb" stroke-width="4.6" opacity="0.6"/>
<line x1="415.6" y1="166.8" x2="427.3" y2="179.7" stroke="#86abcd" stroke-width="4.6" opacity="0.75"/>
<line x1="427.3" y1="179.7" x2="439" y2="192.6" stroke="#b08bbb" stroke-width="4.6" opacity="0.6"/>
<line x1="415.6" y1="166.8" x2="436.1" y2="155.5" stroke="#86abcd" stroke-width="4.6" opacity="0.75"/>
<line x1="436.1" y1="155.5" x2="456.7" y2="144.2" stroke="#b08bbb" stroke-width="4.6" opacity="0.6"/>
<circle cx="179.3" cy="172.1" r="7.7" fill="url(#gW3)" />
<circle cx="179.3" cy="172.1" r="8.2" fill="#d5d6e2" opacity="0.28"/>
<circle cx="217.4" cy="166.8" r="7.7" fill="url(#gW3)" />
<circle cx="217.4" cy="166.8" r="8.2" fill="#d5d6e2" opacity="0.28"/>
<circle cx="277.6" cy="172.1" r="7.7" fill="url(#gW3)" />
<circle cx="277.6" cy="172.1" r="8.2" fill="#d5d6e2" opacity="0.28"/>
<circle cx="315.8" cy="166.8" r="7.7" fill="url(#gW3)" />
<circle cx="315.8" cy="166.8" r="8.2" fill="#d5d6e2" opacity="0.28"/>
<circle cx="377.4" cy="172.1" r="7.7" fill="url(#gW3)" />
<circle cx="377.4" cy="172.1" r="8.2" fill="#d5d6e2" opacity="0.28"/>
<circle cx="415.6" cy="166.8" r="7.7" fill="url(#gW3)" />
<circle cx="415.6" cy="166.8" r="8.2" fill="#d5d6e2" opacity="0.28"/>
<circle cx="183.3" cy="117.6" r="7" fill="url(#gTe3)" />
<circle cx="179.5" cy="121.7" r="7.1" fill="url(#gTe3)" />
<circle cx="175.7" cy="125.7" r="7.2" fill="url(#gTe3)" />
<circle cx="171.9" cy="129.8" r="7.3" fill="url(#gTe3)" />
<circle cx="168.1" cy="133.8" r="7.5" fill="url(#gTe3)" />
<circle cx="164.2" cy="137.9" r="7.6" fill="url(#gTe3)" />
<circle cx="160.4" cy="142" r="7.7" fill="url(#gTe3)" />
<circle cx="156.6" cy="146" r="7.8" fill="url(#gTe3)" />
<circle cx="152.8" cy="150.1" r="7.9" fill="url(#gTe3)" />
<circle cx="234.7" cy="104.4" r="7" fill="url(#gTe3)" />
<circle cx="230.9" cy="108.5" r="7.1" fill="url(#gTe3)" />
<circle cx="227.1" cy="112.5" r="7.2" fill="url(#gTe3)" />
<circle cx="223.3" cy="116.6" r="7.3" fill="url(#gTe3)" />
<circle cx="219.4" cy="120.7" r="7.5" fill="url(#gTe3)" />
<circle cx="215.6" cy="124.7" r="7.6" fill="url(#gTe3)" />
<circle cx="211.8" cy="128.8" r="7.7" fill="url(#gTe3)" />
<circle cx="208" cy="132.8" r="7.8" fill="url(#gTe3)" />
<circle cx="204.2" cy="136.9" r="7.9" fill="url(#gTe3)" />
<circle cx="281.7" cy="117.6" r="7" fill="url(#gTe3)" />
<circle cx="277.9" cy="121.7" r="7.1" fill="url(#gTe3)" />
<circle cx="274.1" cy="125.7" r="7.2" fill="url(#gTe3)" />
<circle cx="270.3" cy="129.8" r="7.3" fill="url(#gTe3)" />
<circle cx="266.4" cy="133.8" r="7.5" fill="url(#gTe3)" />
<circle cx="262.6" cy="137.9" r="7.6" fill="url(#gTe3)" />
<circle cx="258.8" cy="142" r="7.7" fill="url(#gTe3)" />
<circle cx="255" cy="146" r="7.8" fill="url(#gTe3)" />
<circle cx="251.2" cy="150.1" r="7.9" fill="url(#gTe3)" />
<circle cx="334.5" cy="104.4" r="7" fill="url(#gTe3)" />
<circle cx="330.7" cy="108.5" r="7.1" fill="url(#gTe3)" />
<circle cx="326.9" cy="112.5" r="7.2" fill="url(#gTe3)" />
<circle cx="323.1" cy="116.6" r="7.3" fill="url(#gTe3)" />
<circle cx="319.2" cy="120.7" r="7.5" fill="url(#gTe3)" />
<circle cx="315.4" cy="124.7" r="7.6" fill="url(#gTe3)" />
<circle cx="311.6" cy="128.8" r="7.7" fill="url(#gTe3)" />
<circle cx="307.8" cy="132.8" r="7.8" fill="url(#gTe3)" />
<circle cx="304" cy="136.9" r="7.9" fill="url(#gTe3)" />
<circle cx="382.4" cy="117.6" r="7" fill="url(#gTe3)" />
<circle cx="378.6" cy="121.7" r="7.1" fill="url(#gTe3)" />
<circle cx="374.8" cy="125.7" r="7.2" fill="url(#gTe3)" />
<circle cx="371" cy="129.8" r="7.3" fill="url(#gTe3)" />
<circle cx="367.1" cy="133.8" r="7.5" fill="url(#gTe3)" />
<circle cx="363.3" cy="137.9" r="7.6" fill="url(#gTe3)" />
<circle cx="359.5" cy="142" r="7.7" fill="url(#gTe3)" />
<circle cx="355.7" cy="146" r="7.8" fill="url(#gTe3)" />
<circle cx="351.9" cy="150.1" r="7.9" fill="url(#gTe3)" />
<circle cx="435.8" cy="104.4" r="7" fill="url(#gTe3)" />
<circle cx="432" cy="108.5" r="7.1" fill="url(#gTe3)" />
<circle cx="428.2" cy="112.5" r="7.2" fill="url(#gTe3)" />
<circle cx="424.4" cy="116.6" r="7.3" fill="url(#gTe3)" />
<circle cx="420.6" cy="120.7" r="7.5" fill="url(#gTe3)" />
<circle cx="416.7" cy="124.7" r="7.6" fill="url(#gTe3)" />
<circle cx="412.9" cy="128.8" r="7.7" fill="url(#gTe3)" />
<circle cx="409.1" cy="132.8" r="7.8" fill="url(#gTe3)" />
<circle cx="405.3" cy="136.9" r="7.9" fill="url(#gTe3)" />
<circle cx="475.8" cy="123.9" r="7.3" fill="url(#gTe3)" />
<circle cx="471.9" cy="127.9" r="7.5" fill="url(#gTe3)" />
<circle cx="468.1" cy="132" r="7.6" fill="url(#gTe3)" />
<circle cx="464.3" cy="136.1" r="7.7" fill="url(#gTe3)" />
<circle cx="460.5" cy="140.1" r="7.8" fill="url(#gTe3)" />
<circle cx="456.7" cy="144.2" r="7.9" fill="url(#gTe3)" />
<circle cx="139.6" cy="194.1" r="8.2" fill="url(#gTe3)" />
<circle cx="188.1" cy="205.8" r="8.2" fill="url(#gTe3)" />
<circle cx="239.4" cy="194.1" r="8.2" fill="url(#gTe3)" />
<circle cx="287.9" cy="205.8" r="8.2" fill="url(#gTe3)" />
<circle cx="339.2" cy="192.6" r="8.2" fill="url(#gTe3)" />
<circle cx="387.7" cy="205.8" r="8.2" fill="url(#gTe3)" />
<circle cx="439" cy="192.6" r="8.2" fill="url(#gTe3)" />
<circle cx="369.5" cy="168" r="47.5" fill="none" stroke="#1a1a1a" stroke-width="1.8"/>
<line x1="423" y1="165" x2="489.3" y2="163.9" stroke="#000" stroke-width="1.6"/><polygon points="509.3,163.6 487.4,173 487.2,155" fill="#000"/>
<circle cx="542.8" cy="94.5" r="15.7" fill="url(#gTe3)" />
<circle cx="616" cy="203.3" r="15.5" fill="url(#gTe3)" />
<g filter="url(#blur1)">
<polygon points="542.8,94.5 632.7,88.2 526.5,119.1" fill="#9b9b9b" opacity="0.97"/>
<polygon points="632.7,88.2 616,203.3 598.2,227.4" fill="#909090" opacity="0.95"/>
<polygon points="526.5,119.1 508.8,196.5 598.2,227.4" fill="#cbcccb" opacity="0.97"/>
<polygon points="508.8,196.5 598.2,227.4 545,205" fill="#c2c5c2" opacity="0.9"/>
<polygon points="526.5,119.1 632.7,88.2 598.2,227.4" fill="#eeeef2" opacity="0.97"/>
<line x1="584.6" y1="154.7" x2="632.7" y2="88.2" stroke="#dde2f0" stroke-width="5" opacity="0.9"/>
<line x1="584.6" y1="154.7" x2="526.5" y2="119.1" stroke="#dde2f0" stroke-width="5" opacity="0.9"/>
<line x1="584.6" y1="154.7" x2="598.2" y2="227.4" stroke="#dde2f0" stroke-width="5" opacity="0.9"/>
<line x1="508.8" y1="196.5" x2="557" y2="167" stroke="#d4d6da" stroke-width="4" opacity="0.9"/>
<circle cx="584.6" cy="154.7" r="16.5" fill="url(#gWpale)" opacity="0.9"/>
<polygon points="632.7,88.2 625.7,100.2 601.2,213.4 611.2,219.4" fill="#8a8a8a" opacity="0.9"/>
</g>
<circle cx="632.7" cy="88.2" r="16" fill="url(#gTe3)" />
<circle cx="526.5" cy="119.1" r="16" fill="url(#gTe3)" />
<circle cx="508.8" cy="196.5" r="16" fill="url(#gTe3)" />
<circle cx="598.2" cy="227.4" r="16" fill="url(#gTe3)" /><circle cx="187.1" cy="359.6" r="11.4" fill="url(#gW)" />
<circle cx="260.4" cy="359.6" r="11.4" fill="url(#gW)" />
<circle cx="333.7" cy="359.6" r="11.4" fill="url(#gW)" />
<circle cx="407" cy="359.6" r="11.4" fill="url(#gW)" />
<circle cx="480.3" cy="359.6" r="11.4" fill="url(#gW)" />
<circle cx="553.6" cy="359.6" r="11.4" fill="url(#gW)" />
<circle cx="224.4" cy="442.6" r="11.4" fill="url(#gW)" />
<circle cx="297.7" cy="442.6" r="11.4" fill="url(#gW)" />
<circle cx="371" cy="442.6" r="11.4" fill="url(#gW)" />
<circle cx="444.3" cy="442.6" r="11.4" fill="url(#gW)" />
<circle cx="517.6" cy="442.6" r="11.4" fill="url(#gW)" />
<circle cx="187.1" cy="490.5" r="11.4" fill="url(#gW)" />
<circle cx="260.4" cy="490.5" r="11.4" fill="url(#gW)" />
<circle cx="333.7" cy="490.5" r="11.4" fill="url(#gW)" />
<circle cx="407" cy="490.5" r="11.4" fill="url(#gW)" />
<circle cx="480.3" cy="490.5" r="11.4" fill="url(#gW)" />
<circle cx="553.6" cy="490.5" r="11.4" fill="url(#gW)" />
<circle cx="224.4" cy="573.3" r="11.4" fill="url(#gW)" />
<circle cx="297.7" cy="573.3" r="11.4" fill="url(#gW)" />
<circle cx="371" cy="573.3" r="11.4" fill="url(#gW)" />
<circle cx="444.3" cy="573.3" r="11.4" fill="url(#gW)" />
<circle cx="517.6" cy="573.3" r="11.4" fill="url(#gW)" />
<circle cx="187.1" cy="621.7" r="11.4" fill="url(#gW)" />
<circle cx="260.4" cy="621.7" r="11.4" fill="url(#gW)" />
<circle cx="333.7" cy="621.7" r="11.4" fill="url(#gW)" />
<circle cx="407" cy="621.7" r="11.4" fill="url(#gW)" />
<circle cx="480.3" cy="621.7" r="11.4" fill="url(#gW)" />
<circle cx="553.6" cy="621.7" r="11.4" fill="url(#gW)" />
<circle cx="187.1" cy="326.1" r="11" fill="url(#gTe)" />
<circle cx="260.4" cy="326.1" r="11" fill="url(#gTe)" />
<circle cx="333.7" cy="326.1" r="11" fill="url(#gTe)" />
<circle cx="407" cy="326.1" r="11" fill="url(#gTe)" />
<circle cx="480.3" cy="326.1" r="11" fill="url(#gTe)" />
<circle cx="553.6" cy="326.1" r="11" fill="url(#gTe)" />
<circle cx="224.4" cy="344.9" r="11" fill="url(#gTe)" />
<circle cx="297.7" cy="344.9" r="11" fill="url(#gTe)" />
<circle cx="371" cy="344.9" r="11" fill="url(#gTe)" />
<circle cx="444.3" cy="344.9" r="11" fill="url(#gTe)" />
<circle cx="517.6" cy="344.9" r="11" fill="url(#gTe)" />
<circle cx="224.4" cy="391.9" r="11" fill="url(#gTe)" />
<circle cx="297.7" cy="391.9" r="11" fill="url(#gTe)" />
<circle cx="371" cy="391.9" r="11" fill="url(#gTe)" />
<circle cx="444.3" cy="391.9" r="11" fill="url(#gTe)" />
<circle cx="517.6" cy="391.9" r="11" fill="url(#gTe)" />
<circle cx="187.1" cy="410.4" r="11" fill="url(#gTe)" />
<circle cx="260.4" cy="410.4" r="11" fill="url(#gTe)" />
<circle cx="333.7" cy="410.4" r="11" fill="url(#gTe)" />
<circle cx="407" cy="410.4" r="11" fill="url(#gTe)" />
<circle cx="480.3" cy="410.4" r="11" fill="url(#gTe)" />
<circle cx="553.6" cy="410.4" r="11" fill="url(#gTe)" />
<circle cx="187.1" cy="456.4" r="11" fill="url(#gTe)" />
<circle cx="260.4" cy="456.4" r="11" fill="url(#gTe)" />
<circle cx="333.7" cy="456.4" r="11" fill="url(#gTe)" />
<circle cx="407" cy="456.4" r="11" fill="url(#gTe)" />
<circle cx="480.3" cy="456.4" r="11" fill="url(#gTe)" />
<circle cx="553.6" cy="456.4" r="11" fill="url(#gTe)" />
<circle cx="224.4" cy="475.8" r="11" fill="url(#gTe)" />
<circle cx="297.7" cy="475.8" r="11" fill="url(#gTe)" />
<circle cx="371" cy="475.8" r="11" fill="url(#gTe)" />
<circle cx="444.3" cy="475.8" r="11" fill="url(#gTe)" />
<circle cx="517.6" cy="475.8" r="11" fill="url(#gTe)" />
<circle cx="224.4" cy="522.8" r="11" fill="url(#gTe)" />
<circle cx="297.7" cy="522.8" r="11" fill="url(#gTe)" />
<circle cx="371" cy="522.8" r="11" fill="url(#gTe)" />
<circle cx="444.3" cy="522.8" r="11" fill="url(#gTe)" />
<circle cx="517.6" cy="522.8" r="11" fill="url(#gTe)" />
<circle cx="187.1" cy="541.6" r="11" fill="url(#gTe)" />
<circle cx="260.4" cy="541.6" r="11" fill="url(#gTe)" />
<circle cx="333.7" cy="541.6" r="11" fill="url(#gTe)" />
<circle cx="407" cy="541.6" r="11" fill="url(#gTe)" />
<circle cx="480.3" cy="541.6" r="11" fill="url(#gTe)" />
<circle cx="553.6" cy="541.6" r="11" fill="url(#gTe)" />
<circle cx="187.1" cy="587.1" r="11" fill="url(#gTe)" />
<circle cx="260.4" cy="587.1" r="11" fill="url(#gTe)" />
<circle cx="333.7" cy="587.1" r="11" fill="url(#gTe)" />
<circle cx="407" cy="587.1" r="11" fill="url(#gTe)" />
<circle cx="480.3" cy="587.1" r="11" fill="url(#gTe)" />
<circle cx="553.6" cy="587.1" r="11" fill="url(#gTe)" />
<circle cx="224.4" cy="607" r="11" fill="url(#gTe)" />
<circle cx="297.7" cy="607" r="11" fill="url(#gTe)" />
<circle cx="371" cy="607" r="11" fill="url(#gTe)" />
<circle cx="444.3" cy="607" r="11" fill="url(#gTe)" />
<circle cx="517.6" cy="607" r="11" fill="url(#gTe)" />
<path d="M187.1,490.5 H260.4 M187.1,621.4 H260.4" fill="none" stroke="#0a0a14" stroke-width="3.6" stroke-dasharray="20.5 6"/>
<path d="M187.1,490.5 V621.4 M260.4,490.5 V621.4" fill="none" stroke="#0a0a14" stroke-width="3.6" stroke-dasharray="27.5 6.5"/>
<path d="M187.1,621.5 C190.1,637.5 204.1,651.4 222.2,651.4 C237.2,651.4 250.4,644 256.4,632" fill="none" stroke="#000" stroke-width="4.3"/>
<polygon points="260.4,622.8 248.2,631.9 255.4,631.5 259.4,637.6" fill="#000"/>
<path d="M260.4,625 C263.4,641 277.4,651.4 295.5,651.4 C310.5,651.4 323.7,644 329.7,632" fill="none" stroke="#000" stroke-width="4.3"/>
<polygon points="333.7,622.8 321.5,631.9 328.7,631.5 332.7,637.6" fill="#000"/>
<path d="M333.7,625 C336.7,641 350.7,651.4 368.9,651.4 C383.9,651.4 397,644 403,632" fill="none" stroke="#000" stroke-width="4.3"/>
<polygon points="407,622.8 394.8,631.9 402,631.5 406,637.6" fill="#000"/>
<path d="M407,625 C410,641 424,651.4 442.1,651.4 C457.1,651.4 470.3,644 476.3,632" fill="none" stroke="#000" stroke-width="4.3"/>
<polygon points="480.3,622.8 468.1,631.9 475.3,631.5 479.3,637.6" fill="#000"/>
<path d="M480.3,625 C483.3,641 497.3,651.4 515.5,651.4 C530.5,651.4 543.6,644 549.6,632" fill="none" stroke="#000" stroke-width="4.3"/>
<polygon points="553.6,622.8 541.4,631.9 548.6,631.5 552.6,637.6" fill="#000"/>
<path d="M187.1,621.2 C146,585.2 144,552.5 175.5,498" fill="none" stroke="#000" stroke-width="4.3"/>
<polygon points="183.5,489.5 168.6,493.7 175.2,497 178,503.7" fill="#000"/>
<path d="M187.1,490.2 C146,454.2 144,421.6 175.5,367.1" fill="none" stroke="#000" stroke-width="4.3"/>
<polygon points="183.5,358.6 168.6,362.8 175.2,366.1 178,372.8" fill="#000"/>
<line x1="123.2" y1="676" x2="123.2" y2="618.1" stroke="#000" stroke-width="3.2"/><polygon points="123.2,599.6 132.2,620.1 114.2,620.1" fill="#000"/>
<line x1="134" y1="687.2" x2="191.2" y2="687.2" stroke="#000" stroke-width="3.2"/><polygon points="209.7,687.2 189.2,696.2 189.2,678.2" fill="#000"/>
<circle cx="122.8" cy="687.2" r="11.6" fill="#fff" stroke="#000" stroke-width="2.9"/><circle cx="122.8" cy="687.2" r="6.3" fill="#000"/>
<text x="123.5" y="589.2" font-size="37.5" fill="#000" font-weight="normal" font-style="italic" text-anchor="middle" >b</text>
<text x="88.6" y="697.2" font-size="38" fill="#000" font-weight="normal" font-style="italic" text-anchor="middle" >c</text>
<text x="230" y="697" font-size="38" fill="#000" font-weight="normal" font-style="italic" text-anchor="middle" >a</text>
<text x="575.2" y="462.2" font-size="40" fill="#cb58aa" font-weight="normal" font-style="normal" text-anchor="start" >Te</text>
<text x="577" y="512.1" font-size="39.5" fill="#6395c4" font-weight="normal" font-style="normal" text-anchor="start" >W</text></g>
<g id="pd"><g filter="url(#blur2)">
<path d="M337.7,1099 L204.7,1345.5 A133,31.6 0 0 0 470.7,1345.5 Z" fill="url(#coneH)"/>
</g>
<polygon points="114,1238 454,1238 577,1112 577,1100 452,1230 114,1230" fill="#888" opacity="0.35" filter="url(#blur2)"/>
<polygon points="112.2,1168 452.3,1168 575.8,1042 238.2,1042" fill="#b3b8c9"/>
<polygon points="452.3,1168 575.8,1042 575.8,1110.5 452.3,1236.5" fill="url(#rightFace)"/>
<polygon points="199.1,1144.8 410.7,1144.8 497.5,1057.9 285.9,1057.9" fill="#3a62aa"/>
<rect x="238.2" y="1044.5" width="243.4" height="108.8" fill="#b9c56c" opacity="0.3"/>
<polygon points="244.3,1065.3 303,1059.1 407,1120.3 352,1128.9" fill="#8f8496" opacity="0.72"/>
<polygon points="363,1070.1 420.5,1070.1 312.8,1139.9 251.7,1131.3" fill="#8f8496" opacity="0.72"/>
<polygon points="112.2,1168 452.3,1168 452.3,1236.5 112.2,1236.5" fill="#c3c3c6" opacity="0.9"/>
<polygon points="197.8,1144.8 410.7,1144.8 410.7,1214.5 197.8,1214.5" fill="#dfe2ee" opacity="0.35"/>
<polyline points="197.8,1144.8 197.8,1214.5 410.7,1214.5 410.7,1144.8" fill="none" stroke="#6d6d78" stroke-width="1" stroke-dasharray="4 2.5"/>
<polyline points="410.7,1214.5 497.5,1127.6 497.5,1057.9" fill="none" stroke="#6d6d78" stroke-width="1" stroke-dasharray="4 2.5"/>
<polyline points="197.8,1214.5 285.9,1127.6" fill="none" stroke="#6d6d78" stroke-width="1" stroke-dasharray="4 2.5"/>
<line x1="410.7" y1="1127.6" x2="497.5" y2="1127.6" fill="none" stroke="#6d6d78" stroke-width="1" stroke-dasharray="4 2.5"/>
<line x1="112.2" y1="1236.5" x2="238.2" y2="1110.5" stroke="#9a9aa2" stroke-width="1" opacity="0.7"/>
<line x1="238.2" y1="1110.5" x2="575.8" y2="1110.5" stroke="#9a9aa2" stroke-width="1" opacity="0.5"/>
<g filter="url(#blur2)">
<path d="M337.7,1100 L221.3,894.8 A116.4,28 0 0 1 454.1,894.8 Z" fill="url(#coneH)" opacity="0.93"/>
<ellipse cx="337.7" cy="894.8" rx="116.4" ry="28" fill="#ffe88c" opacity="0.6"/>
</g>
<text x="48" y="847" font-size="46" font-weight="bold" fill="#000" letter-spacing="2.4">(d)</text>
<text x="81" y="1001.5" font-size="39.5" letter-spacing="2.2"><tspan font-style="italic">h</tspan>-BN</text>
<text transform="translate(489.5,949.7) scale(1.22,1)" font-size="33.5" letter-spacing="1.2">ツイスト</text>
<text x="485" y="992" font-size="39" letter-spacing="1.6">二層WTe<tspan font-size="19" dy="8">2</tspan></text>
<line x1="176.4" y1="1017.9" x2="247.9" y2="1081" stroke="#000" stroke-width="2.6"/>
<line x1="475.8" y1="1017.9" x2="352.7" y2="1097.7" stroke="#000" stroke-width="2.6"/>
<text x="114" y="1150" font-size="40.5" fill="#1c1ccf" font-weight="normal" font-style="normal" text-anchor="start" letter-spacing="1">SiN</text>
<text x="131.5" y="1216" font-size="40.5" fill="#000" font-weight="normal" font-style="normal" text-anchor="start" letter-spacing="1">Si</text><g filter="url(#blur15)">
<polygon points="238,1472.8 357.8,1472.8 300.8,1604 294.8,1604" fill="url(#coneH2)"/>
</g>
<rect x="130.3" y="1612.3" width="336.7" height="24.3" fill="#3b69b3"/>
<rect x="130.3" y="1636.6" width="67.4" height="74.3" fill="#cdcdcd"/>
<rect x="399.7" y="1636.6" width="67.3" height="74.3" fill="#cdcdcd"/>
<g filter="url(#blur15)"><polygon points="238,1729.1 357.8,1729.1 301.8,1610 293.8,1610" fill="url(#coneH2)"/></g>
<rect x="256.2" y="1592" width="150.2" height="6.8" fill="#7433a3"/>
<rect x="245" y="1602.3" width="179.6" height="7" fill="#7433a3"/>
<path d="M148.5,1605.8 L219,1605.8 C231,1605.8 229,1584.4 243,1584.4 L416,1584.4 C434,1584.4 434,1602 449,1606.5" fill="none" stroke="#6fae4b" stroke-width="4.3" stroke-linejoin="round"/>
<ellipse cx="297.8" cy="1601" rx="8" ry="20" fill="#fff" opacity="0.9" filter="url(#blur3)"/>
<ellipse cx="297.8" cy="1622" rx="9" ry="13" fill="#fff8d8" opacity="0.8" filter="url(#blur3)"/>
<text x="459.5" y="1454.3" font-size="38.5" letter-spacing="3.1"><tspan font-style="italic">h</tspan>-BN</text>
<text x="518" y="1529.5" font-size="38.5" fill="#000" font-weight="normal" font-style="normal" text-anchor="start" letter-spacing="4.9">ツイスト</text>
<text x="509.8" y="1570.5" font-size="39" letter-spacing="2.4">二層WTe<tspan font-size="19" dy="9">2</tspan></text>
<text transform="translate(517,1653.5) scale(1,1.3)" font-size="40" fill="#1c1ccf" letter-spacing="2">SiN</text>
<text x="145.5" y="1689" font-size="40.5" fill="#000" font-weight="normal" font-style="normal" text-anchor="start" letter-spacing="1">Si</text>
<line x1="491.6" y1="1487.8" x2="415.5" y2="1578.5" stroke="#000" stroke-width="2.6"/>
<line x1="491.6" y1="1566.9" x2="410.9" y2="1599.5" stroke="#000" stroke-width="2.6"/>
<line x1="467" y1="1624.1" x2="490.9" y2="1624.1" stroke="#000" stroke-width="2.6"/></g>
<g clip-path="url(#clipE)"><rect x="734" y="629" width="570" height="569" fill="#1e1e1e"/><g transform="translate(1022,918.5) rotate(31.2)"><use href="#slayer"/></g><g transform="translate(1017,914.5) rotate(-31.2)"><use href="#slayer"/></g></g>
<rect x="735" y="630" width="138" height="60" fill="url(#redFade)"/>
<rect x="735" y="797" width="138" height="61" fill="url(#redFade)"/>
<rect x="735" y="919" width="138" height="59" fill="url(#redFade)"/>
<rect x="735" y="1083.5" width="138" height="105" fill="url(#redFade)"/>
<g filter="url(#blurBar)">
<rect x="730" y="682" width="147" height="16" rx="6" fill="#ee1216"/>
<rect x="730" y="789" width="147" height="16" rx="6" fill="#ee1216"/>
<rect x="730" y="850" width="147" height="16" rx="6" fill="#ee1216"/>
<rect x="730" y="911" width="147" height="16" rx="6" fill="#ee1216"/>
<rect x="730" y="970" width="147" height="16" rx="6" fill="#ee1216"/>
<rect x="730" y="1075.5" width="147" height="16" rx="6" fill="#ee1216"/>
<rect x="730" y="1180.5" width="147" height="16" rx="6" fill="#ee1216"/>
</g>
<rect x="1165.7" y="650.2" width="112.4" height="10.4" fill="#fff"/>
<line x1="1128.8" y1="705.5" x2="1197.3" y2="743.2" stroke="#fff" stroke-width="2.6"/><polygon points="1214,752.3 1192,748.8 1199.2,735.6" fill="#fff"/><line x1="1129.8" y1="754.8" x2="1194.4" y2="713.7" stroke="#fff" stroke-width="2.6"/><polygon points="1210.4,703.5 1196.7,721.1 1188.7,708.4" fill="#fff"/><text x="1226.5" y="706" font-size="34.5" fill="#fff" font-weight="normal" font-style="normal" text-anchor="middle" >a</text><text x="1226.5" y="763" font-size="34.5" fill="#fff" font-weight="normal" font-style="normal" text-anchor="middle" >a</text>
<text x="743" y="673" font-size="46" font-weight="bold" fill="#fff" letter-spacing="2.4">(e)</text>
<g clip-path="url(#clipF)"><rect x="1436" y="629" width="570" height="569" fill="#1e1e1e"/><g transform="translate(1725,915.5) rotate(28.6)"><use href="#slayer"/></g><g transform="translate(1718,919.5) rotate(-28.6)"><use href="#slayer"/></g></g>
<g clip-path="url(#clipF)">
<polygon points="1487.2,1060.3 1562.1,1060.3 1568,1199 1496,1199" fill="url(#blueFade)"/>
<polygon points="1625.2,1060.3 1692.7,1060.3 1697.1,1199 1629.6,1199" fill="url(#blueFade)"/>
<polygon points="1750,1060.3 1785.2,1060.3 1789.6,1199 1758.8,1199" fill="url(#blueFade)"/>
<polygon points="1843.9,1060.3 1911.4,1060.3 1917.3,1199 1849.8,1199" fill="url(#blueFade)"/>
<polygon points="1968.6,1060.3 2006,1060.3 2006,1199 1980.4,1199" fill="url(#blueFade)"/>
</g>
<g filter="url(#blurBar)">
<line x1="1487.2" y1="1059.3" x2="1496" y2="1199" stroke="#1c1cdc" stroke-width="16" stroke-linecap="round"/>
<line x1="1562.1" y1="1059.3" x2="1568" y2="1199" stroke="#1c1cdc" stroke-width="16" stroke-linecap="round"/>
<line x1="1625.2" y1="1059.3" x2="1629.6" y2="1199" stroke="#1c1cdc" stroke-width="16" stroke-linecap="round"/>
<line x1="1692.7" y1="1059.3" x2="1697.1" y2="1199" stroke="#1c1cdc" stroke-width="16" stroke-linecap="round"/>
<line x1="1750" y1="1059.3" x2="1758.8" y2="1199" stroke="#1c1cdc" stroke-width="16" stroke-linecap="round"/>
<line x1="1785.2" y1="1059.3" x2="1789.6" y2="1199" stroke="#1c1cdc" stroke-width="16" stroke-linecap="round"/>
<line x1="1843.9" y1="1059.3" x2="1849.8" y2="1199" stroke="#1c1cdc" stroke-width="16" stroke-linecap="round"/>
<line x1="1911.4" y1="1059.3" x2="1917.3" y2="1199" stroke="#1c1cdc" stroke-width="16" stroke-linecap="round"/>
<line x1="1968.6" y1="1059.3" x2="1980.4" y2="1199" stroke="#1c1cdc" stroke-width="16" stroke-linecap="round"/>
</g>
<rect x="1430" y="1204" width="590" height="12" fill="#fff"/>
<rect x="1845.6" y="650.2" width="134.8" height="10.4" fill="#fff"/>
<line x1="1832.9" y1="714.8" x2="1900.7" y2="749.3" stroke="#fff" stroke-width="2.6"/><polygon points="1917.6,757.9 1895.5,755.1 1902.3,741.7" fill="#fff"/><line x1="1834.4" y1="761" x2="1900.7" y2="721.9" stroke="#fff" stroke-width="2.6"/><polygon points="1917.1,712.2 1902.8,729.3 1895.2,716.4" fill="#fff"/><text x="1937" y="713.2" font-size="34.5" fill="#fff" font-weight="normal" font-style="normal" text-anchor="middle" >a</text><text x="1937" y="774.4" font-size="34.5" fill="#fff" font-weight="normal" font-style="normal" text-anchor="middle" >a</text>
<text x="1446" y="674" font-size="46" font-weight="bold" fill="#fff" letter-spacing="2.4">(f)</text>
<rect x="734" y="1235" width="569" height="568" fill="#fafafa" stroke="#2a2a2a" stroke-width="2.5"/>
<circle cx="1017.4" cy="1519" r="135" fill="url(#beamG)"/>
<polyline points="953.9,1389.5 1113.8,1712.3 999.2,1770.8" fill="none" stroke="#c9a23a" stroke-width="1.5" stroke-dasharray="9 2"/>
<polyline points="1099.3,1401.7 893.5,1694.8 999.2,1770.8" fill="none" stroke="#2f8a45" stroke-width="1.5" stroke-dasharray="9 2"/>
<circle cx="1287.3" cy="1282.1" r="10" fill="url(#yglow)"/><circle cx="1287.3" cy="1282.1" r="4.4" fill="url(#spot)"/>
<circle cx="1084.1" cy="1320.8" r="10" fill="url(#yglow)"/><circle cx="1084.1" cy="1320.8" r="4.4" fill="url(#spot)"/>
<circle cx="881.2" cy="1362.1" r="10" fill="url(#yglow)"/><circle cx="881.2" cy="1362.1" r="4.4" fill="url(#spot)"/>
<circle cx="1220.5" cy="1479.4" r="10" fill="url(#yglow)"/><circle cx="1220.5" cy="1479.4" r="4.4" fill="url(#spot)"/>
<circle cx="814.8" cy="1558.7" r="10" fill="url(#yglow)"/><circle cx="814.8" cy="1558.7" r="4.4" fill="url(#spot)"/>
<circle cx="1152.8" cy="1676.9" r="10" fill="url(#yglow)"/><circle cx="1152.8" cy="1676.9" r="4.4" fill="url(#spot)"/>
<circle cx="949.6" cy="1715.6" r="10" fill="url(#yglow)"/><circle cx="949.6" cy="1715.6" r="4.4" fill="url(#spot)"/>
<circle cx="745.8" cy="1755.2" r="10" fill="url(#yglow)"/><circle cx="745.8" cy="1755.2" r="4.4" fill="url(#spot)"/>
<circle cx="888.5" cy="1261.3" r="3.2" fill="url(#fspot)"/>
<circle cx="888.5" cy="1261.3" r="7.7" fill="none" stroke="#b99a3e" stroke-width="2.2"/>
<circle cx="772.2" cy="1320.1" r="3.2" fill="url(#fspot)"/>
<circle cx="772.2" cy="1320.1" r="7.7" fill="none" stroke="#b99a3e" stroke-width="2.2"/>
<circle cx="920.5" cy="1325.7" r="3.2" fill="url(#fspot)"/>
<circle cx="920.5" cy="1325.7" r="7.7" fill="none" stroke="#b99a3e" stroke-width="2.2"/>
<circle cx="1066.9" cy="1330.7" r="3.2" fill="url(#fspot)"/>
<circle cx="1066.9" cy="1330.7" r="7.7" fill="none" stroke="#b99a3e" stroke-width="2.2"/>
<circle cx="953.9" cy="1389.5" r="3.2" fill="url(#fspot)"/>
<circle cx="953.9" cy="1389.5" r="7.7" fill="none" stroke="#b99a3e" stroke-width="2.2"/>
<circle cx="837.3" cy="1449" r="3.2" fill="url(#fspot)"/>
<circle cx="837.3" cy="1449" r="7.7" fill="none" stroke="#b99a3e" stroke-width="2.2"/>
<circle cx="985.3" cy="1455.2" r="3.2" fill="url(#fspot)"/>
<circle cx="985.3" cy="1455.2" r="7.7" fill="none" stroke="#b99a3e" stroke-width="2.2"/>
<circle cx="1049.4" cy="1583.4" r="3.2" fill="url(#fspot)"/>
<circle cx="1049.4" cy="1583.4" r="7.7" fill="none" stroke="#b99a3e" stroke-width="2.2"/>
<circle cx="1196.8" cy="1587.7" r="3.2" fill="url(#fspot)"/>
<circle cx="1196.8" cy="1587.7" r="7.7" fill="none" stroke="#b99a3e" stroke-width="2.2"/>
<circle cx="1081.1" cy="1647.9" r="3.2" fill="url(#fspot)"/>
<circle cx="1081.1" cy="1647.9" r="7.7" fill="none" stroke="#b99a3e" stroke-width="2.2"/>
<circle cx="745.4" cy="1678.6" r="3.2" fill="url(#fspot)"/>
<circle cx="745.4" cy="1678.6" r="7.7" fill="none" stroke="#b99a3e" stroke-width="2.2"/>
<circle cx="817.5" cy="1700.7" r="3.2" fill="url(#fspot)"/>
<circle cx="817.5" cy="1700.7" r="7.7" fill="none" stroke="#b99a3e" stroke-width="2.2"/>
<circle cx="966.1" cy="1706.3" r="3.2" fill="url(#fspot)"/>
<circle cx="966.1" cy="1706.3" r="7.7" fill="none" stroke="#b99a3e" stroke-width="2.2"/>
<circle cx="1113.8" cy="1712.3" r="3.2" fill="url(#fspot)"/>
<circle cx="1113.8" cy="1712.3" r="7.7" fill="none" stroke="#b99a3e" stroke-width="2.2"/>
<circle cx="1260.9" cy="1717.9" r="3.2" fill="url(#fspot)"/>
<circle cx="1260.9" cy="1717.9" r="7.7" fill="none" stroke="#b99a3e" stroke-width="2.2"/>
<circle cx="1145.2" cy="1778.4" r="3.2" fill="url(#fspot)"/>
<circle cx="1145.2" cy="1778.4" r="7.7" fill="none" stroke="#b99a3e" stroke-width="2.2"/>
<circle cx="1293.2" cy="1782.3" r="3.2" fill="url(#fspot)"/>
<circle cx="1293.2" cy="1782.3" r="7.7" fill="none" stroke="#b99a3e" stroke-width="2.2"/>
<circle cx="1181.6" cy="1282.1" r="3.2" fill="url(#fspot)"/>
<circle cx="1181.6" cy="1282.1" r="7.7" fill="none" stroke="#2f7f48" stroke-width="2.2"/>
<circle cx="993.6" cy="1325.7" r="3.2" fill="url(#fspot)"/>
<circle cx="993.6" cy="1325.7" r="7.7" fill="none" stroke="#2f7f48" stroke-width="2.2"/>
<circle cx="1140.3" cy="1342.2" r="3.2" fill="url(#fspot)"/>
<circle cx="1140.3" cy="1342.2" r="7.7" fill="none" stroke="#2f7f48" stroke-width="2.2"/>
<circle cx="1286.6" cy="1358.1" r="3.2" fill="url(#fspot)"/>
<circle cx="1286.6" cy="1358.1" r="7.7" fill="none" stroke="#2f7f48" stroke-width="2.2"/>
<circle cx="1099.3" cy="1401.7" r="3.2" fill="url(#fspot)"/>
<circle cx="1099.3" cy="1401.7" r="7.7" fill="none" stroke="#2f7f48" stroke-width="2.2"/>
<circle cx="1058.7" cy="1459.5" r="3.2" fill="url(#fspot)"/>
<circle cx="1058.7" cy="1459.5" r="7.7" fill="none" stroke="#2f7f48" stroke-width="2.2"/>
<circle cx="1205.7" cy="1476.1" r="3.2" fill="url(#fspot)"/>
<circle cx="1205.7" cy="1476.1" r="7.7" fill="none" stroke="#2f7f48" stroke-width="2.2"/>
<circle cx="830" cy="1561" r="3.2" fill="url(#fspot)"/>
<circle cx="830" cy="1561" r="7.7" fill="none" stroke="#2f7f48" stroke-width="2.2"/>
<circle cx="976.1" cy="1578.5" r="3.2" fill="url(#fspot)"/>
<circle cx="976.1" cy="1578.5" r="7.7" fill="none" stroke="#2f7f48" stroke-width="2.2"/>
<circle cx="935.7" cy="1636.3" r="3.2" fill="url(#fspot)"/>
<circle cx="935.7" cy="1636.3" r="7.7" fill="none" stroke="#2f7f48" stroke-width="2.2"/>
<circle cx="893.5" cy="1694.8" r="3.2" fill="url(#fspot)"/>
<circle cx="893.5" cy="1694.8" r="7.7" fill="none" stroke="#2f7f48" stroke-width="2.2"/>
<circle cx="1041.1" cy="1712.3" r="3.2" fill="url(#fspot)"/>
<circle cx="1041.1" cy="1712.3" r="7.7" fill="none" stroke="#2f7f48" stroke-width="2.2"/>
<circle cx="852.8" cy="1753.6" r="3.2" fill="url(#fspot)"/>
<circle cx="852.8" cy="1753.6" r="7.7" fill="none" stroke="#2f7f48" stroke-width="2.2"/>
<rect x="779.5" y="1350.5" width="52.2" height="50.6" fill="none" stroke="#d6405e" stroke-width="2.2" stroke-dasharray="2.1 2.1"/>
<circle cx="805.9" cy="1368.7" r="3.4" fill="url(#spot)"/>
<circle cx="805.9" cy="1368.7" r="7.2" fill="none" stroke="#2f7f48" stroke-width="2.8"/>
<circle cx="805.9" cy="1384.2" r="3.4" fill="url(#spot)"/>
<circle cx="805.9" cy="1384.2" r="7.2" fill="none" stroke="#b99a3e" stroke-width="2.8"/>
<rect x="1220.5" y="1382.9" width="51.9" height="51.9" fill="none" stroke="#d6405e" stroke-width="2.2" stroke-dasharray="2.1 2.1"/>
<circle cx="1246.3" cy="1400.1" r="3.4" fill="url(#spot)"/>
<circle cx="1246.3" cy="1400.1" r="7.2" fill="none" stroke="#b99a3e" stroke-width="2.8"/>
<circle cx="1246.3" cy="1417.6" r="3.4" fill="url(#spot)"/>
<circle cx="1246.3" cy="1417.6" r="7.2" fill="none" stroke="#2f7f48" stroke-width="2.8"/>
<rect x="760.6" y="1603.9" width="52.5" height="51.5" fill="none" stroke="#d6405e" stroke-width="2.2" stroke-dasharray="2.1 2.1"/>
<circle cx="787.7" cy="1619.8" r="3.4" fill="url(#spot)"/>
<circle cx="787.7" cy="1619.8" r="7.2" fill="none" stroke="#2f7f48" stroke-width="2.8"/>
<circle cx="787.1" cy="1637.9" r="3.4" fill="url(#spot)"/>
<circle cx="787.1" cy="1637.9" r="7.2" fill="none" stroke="#b99a3e" stroke-width="2.8"/>
<rect x="1203" y="1635.6" width="52.2" height="51.2" fill="none" stroke="#d6405e" stroke-width="2.2" stroke-dasharray="2.1 2.1"/>
<circle cx="1228.8" cy="1652.8" r="3.4" fill="url(#spot)"/>
<circle cx="1228.8" cy="1652.8" r="7.2" fill="none" stroke="#b99a3e" stroke-width="2.8"/>
<circle cx="1228.8" cy="1669.3" r="3.4" fill="url(#spot)"/>
<circle cx="1228.8" cy="1669.3" r="7.2" fill="none" stroke="#2f7f48" stroke-width="2.8"/>
<circle cx="1034.9" cy="1267.2" r="4.6" fill="url(#spot)"/>
<circle cx="1034.9" cy="1267.2" r="9.2" fill="none" stroke="#e3202b" stroke-width="2.8"/>
<circle cx="999.2" cy="1770.8" r="4.6" fill="url(#spot)"/>
<circle cx="999.2" cy="1770.8" r="9.2" fill="none" stroke="#e3202b" stroke-width="2.8"/>
<path d="M971.8,1426.1 A103.5,103.5 0 0 1 1076.6,1434.2" fill="none" stroke="#e3202b" stroke-width="3.8"/>
<text x="968.5" y="1383" font-size="38.5" fill="#e3202b" font-weight="normal" font-style="normal" text-anchor="start" letter-spacing="2.2">62.4度</text>
<text x="1238.3" y="1624.5" font-size="38.5" fill="#e3202b" font-weight="normal" font-style="normal" text-anchor="start" >1</text>
<rect x="759.6" y="1774.4" width="90.2" height="7.6" fill="#5b9bd5"/>
<text x="741.5" y="1279.5" font-size="46" font-weight="bold" fill="#000" letter-spacing="2.4">(g)</text>
<rect x="1437.2" y="1235" width="569.2" height="568" fill="#fff" stroke="#2a2a2a" stroke-width="2.5"/>
<circle cx="1724" cy="1517.4" r="200" fill="url(#beamH)"/>
<circle cx="1724" cy="1517.4" r="185" fill="url(#haloMask)" filter="url(#grain)" opacity="0.55"/>
<polyline points="1790.7,1391.8 1623.9,1699.1 1725.6,1758.5" fill="none" stroke="#c9a23a" stroke-width="1.5" stroke-dasharray="9 2"/>
<polyline points="1655.6,1391.8 1824.7,1695.8 1725.6,1758.5" fill="none" stroke="#2f8a45" stroke-width="1.5" stroke-dasharray="9 2"/>
<circle cx="1678.7" cy="1329.7" r="3.2" fill="url(#fspot)"/>
<circle cx="1678.7" cy="1329.7" r="7.2" fill="none" stroke="#b99a3e" stroke-width="1.7"/>
<circle cx="1790.7" cy="1391.8" r="3.2" fill="url(#fspot)"/>
<circle cx="1790.7" cy="1391.8" r="7.2" fill="none" stroke="#b99a3e" stroke-width="1.7"/>
<circle cx="1903.4" cy="1454.6" r="3.2" fill="url(#fspot)"/>
<circle cx="1903.4" cy="1454.6" r="7.2" fill="none" stroke="#b99a3e" stroke-width="1.7"/>
<circle cx="1544.9" cy="1576.2" r="3.2" fill="url(#fspot)"/>
<circle cx="1544.9" cy="1576.2" r="7.2" fill="none" stroke="#b99a3e" stroke-width="1.7"/>
<circle cx="1658.5" cy="1638.9" r="3.2" fill="url(#fspot)"/>
<circle cx="1658.5" cy="1638.9" r="7.2" fill="none" stroke="#b99a3e" stroke-width="1.7"/>
<circle cx="1769.6" cy="1701.4" r="3.2" fill="url(#fspot)"/>
<circle cx="1769.6" cy="1701.4" r="7.2" fill="none" stroke="#b99a3e" stroke-width="1.7"/>
<circle cx="1476.8" cy="1701.4" r="3.2" fill="url(#fspot)"/>
<circle cx="1476.8" cy="1701.4" r="7.2" fill="none" stroke="#b99a3e" stroke-width="1.7"/>
<circle cx="1970.1" cy="1331.3" r="3.2" fill="url(#fspot)"/>
<circle cx="1970.1" cy="1331.3" r="7.2" fill="none" stroke="#b99a3e" stroke-width="1.7"/>
<circle cx="2002.2" cy="1268.9" r="3.2" fill="url(#fspot)"/>
<circle cx="2002.2" cy="1268.9" r="7.2" fill="none" stroke="#b99a3e" stroke-width="1.7"/>
<circle cx="1444.8" cy="1761.8" r="3.2" fill="url(#fspot)"/>
<circle cx="1444.8" cy="1761.8" r="7.2" fill="none" stroke="#b99a3e" stroke-width="1.7"/>
<circle cx="1590.8" cy="1762.8" r="3.2" fill="url(#fspot)"/>
<circle cx="1590.8" cy="1762.8" r="7.2" fill="none" stroke="#b99a3e" stroke-width="1.7"/>
<circle cx="1767.9" cy="1329.7" r="3.2" fill="url(#fspot)"/>
<circle cx="1767.9" cy="1329.7" r="7.2" fill="none" stroke="#2f7f48" stroke-width="1.7"/>
<circle cx="1655.6" cy="1391.8" r="3.2" fill="url(#fspot)"/>
<circle cx="1655.6" cy="1391.8" r="7.2" fill="none" stroke="#2f7f48" stroke-width="1.7"/>
<circle cx="1543.9" cy="1453.9" r="3.2" fill="url(#fspot)"/>
<circle cx="1543.9" cy="1453.9" r="7.2" fill="none" stroke="#2f7f48" stroke-width="1.7"/>
<circle cx="1905" cy="1577.8" r="3.2" fill="url(#fspot)"/>
<circle cx="1905" cy="1577.8" r="7.2" fill="none" stroke="#2f7f48" stroke-width="1.7"/>
<circle cx="1793.3" cy="1638.9" r="3.2" fill="url(#fspot)"/>
<circle cx="1793.3" cy="1638.9" r="7.2" fill="none" stroke="#2f7f48" stroke-width="1.7"/>
<circle cx="1681" cy="1701.4" r="3.2" fill="url(#fspot)"/>
<circle cx="1681" cy="1701.4" r="7.2" fill="none" stroke="#2f7f48" stroke-width="1.7"/>
<circle cx="1973.4" cy="1702.4" r="3.2" fill="url(#fspot)"/>
<circle cx="1973.4" cy="1702.4" r="7.2" fill="none" stroke="#2f7f48" stroke-width="1.7"/>
<circle cx="1862.1" cy="1763.5" r="3.2" fill="url(#fspot)"/>
<circle cx="1862.1" cy="1763.5" r="7.2" fill="none" stroke="#2f7f48" stroke-width="1.7"/>
<circle cx="1690.9" cy="1454.6" r="4.5" fill="url(#spot)"/>
<circle cx="1690.9" cy="1454.6" r="7.2" fill="none" stroke="#2f7f48" stroke-width="2.4"/>
<circle cx="1757.7" cy="1454.6" r="4.5" fill="url(#spot)"/>
<circle cx="1757.7" cy="1454.6" r="7.2" fill="none" stroke="#b99a3e" stroke-width="2.4"/>
<circle cx="1691.6" cy="1576.8" r="4.5" fill="url(#spot)"/>
<circle cx="1691.6" cy="1576.8" r="7.2" fill="none" stroke="#b99a3e" stroke-width="2.4"/>
<circle cx="1757.7" cy="1577.8" r="4.5" fill="url(#spot)"/>
<circle cx="1757.7" cy="1577.8" r="7.2" fill="none" stroke="#2f7f48" stroke-width="2.4"/>
<circle cx="1622" cy="1329.6" r="8.2" fill="url(#spot)"/>
<circle cx="1622" cy="1329.6" r="6.6" fill="none" stroke="#2a7a3a" stroke-width="2.6"/>
<circle cx="1623.5" cy="1337.6" r="9.5" fill="url(#spot)"/>
<circle cx="1623.5" cy="1337.6" r="7.2" fill="none" stroke="#d8d23a" stroke-width="1.6"/>
<circle cx="1826.9" cy="1332.9" r="8.2" fill="url(#spot)"/>
<circle cx="1826.9" cy="1332.9" r="6.6" fill="none" stroke="#8a7a30" stroke-width="2.6"/>
<circle cx="1828.4" cy="1340.9" r="9.5" fill="url(#spot)"/>
<circle cx="1828.4" cy="1340.9" r="7.2" fill="none" stroke="#d8d23a" stroke-width="1.6"/>
<circle cx="1520.1" cy="1512.4" r="9.5" fill="url(#spot)"/>
<circle cx="1520.1" cy="1512.4" r="7.2" fill="none" stroke="#d8d23a" stroke-width="1.6"/>
<circle cx="1928.8" cy="1519" r="9.5" fill="url(#spot)"/>
<circle cx="1928.8" cy="1519" r="7.2" fill="none" stroke="#d8d23a" stroke-width="1.6"/>
<circle cx="1621.9" cy="1697.8" r="6.5" fill="url(#spot)"/>
<circle cx="1620.9" cy="1692.8" r="9.5" fill="url(#spot)"/>
<circle cx="1620.9" cy="1692.8" r="7.2" fill="none" stroke="#d8d23a" stroke-width="1.6"/>
<circle cx="1825.1" cy="1700.4" r="6.5" fill="url(#spot)"/>
<circle cx="1824.1" cy="1695.4" r="9.5" fill="url(#spot)"/>
<circle cx="1824.1" cy="1695.4" r="7.2" fill="none" stroke="#7fcf4a" stroke-width="1.6"/>
<circle cx="1824.1" cy="1695.4" r="8.6" fill="none" stroke="#2f7f48" stroke-width="1.6"/>
<rect x="1697.5" y="1242.5" width="51.2" height="50.9" fill="none" stroke="#3a30b8" stroke-width="2.2" stroke-dasharray="2.1 2.1"/>
<circle cx="1711.7" cy="1268.6" r="5.2" fill="url(#spot)"/>
<circle cx="1711.7" cy="1268.6" r="6.8" fill="none" stroke="#b99a3e" stroke-width="2"/>
<circle cx="1733.9" cy="1268.6" r="5.2" fill="url(#spot)"/>
<circle cx="1733.9" cy="1268.6" r="6.8" fill="none" stroke="#2f7f48" stroke-width="2"/>
<rect x="1479.5" y="1365.4" width="51.2" height="51.2" fill="none" stroke="#3a30b8" stroke-width="2.2" stroke-dasharray="2.1 2.1"/>
<circle cx="1499.3" cy="1391.1" r="5.2" fill="url(#spot)"/>
<circle cx="1499.3" cy="1391.1" r="6.8" fill="none" stroke="#b99a3e" stroke-width="2"/>
<circle cx="1510.9" cy="1391.1" r="5.2" fill="url(#spot)"/>
<circle cx="1510.9" cy="1391.1" r="6.8" fill="none" stroke="#2f7f48" stroke-width="2"/>
<rect x="1917.2" y="1367.7" width="51.2" height="50.6" fill="none" stroke="#3a30b8" stroke-width="2.2" stroke-dasharray="2.1 2.1"/>
<circle cx="1938.7" cy="1392.5" r="5.2" fill="url(#spot)"/>
<circle cx="1938.7" cy="1392.5" r="6.8" fill="none" stroke="#b99a3e" stroke-width="2"/>
<circle cx="1950.3" cy="1392.5" r="5.2" fill="url(#spot)"/>
<circle cx="1950.3" cy="1392.5" r="6.8" fill="none" stroke="#2f7f48" stroke-width="2"/>
<rect x="1479.5" y="1613.2" width="51.2" height="51.2" fill="none" stroke="#3a30b8" stroke-width="2.2" stroke-dasharray="2.1 2.1"/>
<circle cx="1499.3" cy="1638.9" r="5.2" fill="url(#spot)"/>
<circle cx="1499.3" cy="1638.9" r="6.8" fill="none" stroke="#2f7f48" stroke-width="2"/>
<circle cx="1510.9" cy="1638.9" r="5.2" fill="url(#spot)"/>
<circle cx="1510.9" cy="1638.9" r="6.8" fill="none" stroke="#b99a3e" stroke-width="2"/>
<rect x="1918.2" y="1615.5" width="51.2" height="50.6" fill="none" stroke="#3a30b8" stroke-width="2.2" stroke-dasharray="2.1 2.1"/>
<circle cx="1938.7" cy="1640.6" r="5.2" fill="url(#spot)"/>
<circle cx="1938.7" cy="1640.6" r="6.8" fill="none" stroke="#2f7f48" stroke-width="2"/>
<circle cx="1948.6" cy="1640.6" r="5.2" fill="url(#spot)"/>
<circle cx="1948.6" cy="1640.6" r="6.8" fill="none" stroke="#b99a3e" stroke-width="2"/>
<rect x="1700.2" y="1738.7" width="51.2" height="50.6" fill="none" stroke="#3a30b8" stroke-width="2.2" stroke-dasharray="2.1 2.1"/>
<circle cx="1715" cy="1763.5" r="5.2" fill="url(#spot)"/>
<circle cx="1715" cy="1763.5" r="6.8" fill="none" stroke="#2f7f48" stroke-width="2"/>
<circle cx="1737.2" cy="1763.5" r="5.2" fill="url(#spot)"/>
<circle cx="1737.2" cy="1763.5" r="6.8" fill="none" stroke="#b99a3e" stroke-width="2"/>
<path d="M1673.5,1424.7 A105.5,105.5 0 0 1 1773.5,1424.2" fill="none" stroke="#2b22c8" stroke-width="3.8"/>
<text x="1661" y="1383" font-size="38.5" fill="#2b22c8" font-weight="normal" font-style="normal" text-anchor="start" letter-spacing="2.2">57.2度</text>
<text x="1760.5" y="1292.5" font-size="38.5" fill="#2b22c8" font-weight="normal" font-style="normal" text-anchor="start" >2</text>
<text x="1948.5" y="1603.5" font-size="38.5" fill="#2b22c8" font-weight="normal" font-style="normal" text-anchor="start" >3</text>
<rect x="1463" y="1774.4" width="91" height="7.6" fill="#5b9bd5"/>
<text x="1439" y="1280" font-size="46" font-weight="bold" fill="#000" letter-spacing="2.4">(h)</text>
</svg>
</body></html>
